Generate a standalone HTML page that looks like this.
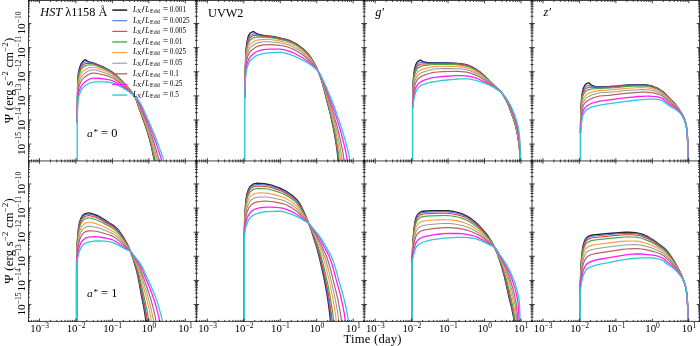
<!DOCTYPE html><html><head><meta charset="utf-8"><style>html,body{margin:0;padding:0;background:#fff;overflow:hidden}svg{display:block}</style></head><body><svg width="700" height="346" viewBox="0 0 700 346">
<rect width="700" height="346" fill="#fff"/>
<defs>
<clipPath id="cp00"><rect x="28.50" y="0.50" width="167.90" height="160.45"/></clipPath>
<clipPath id="cp01"><rect x="196.40" y="0.50" width="167.80" height="160.45"/></clipPath>
<clipPath id="cp02"><rect x="364.20" y="0.50" width="167.80" height="160.45"/></clipPath>
<clipPath id="cp03"><rect x="532.00" y="0.50" width="167.50" height="160.45"/></clipPath>
<clipPath id="cp10"><rect x="28.50" y="160.95" width="167.90" height="160.45"/></clipPath>
<clipPath id="cp11"><rect x="196.40" y="160.95" width="167.80" height="160.45"/></clipPath>
<clipPath id="cp12"><rect x="364.20" y="160.95" width="167.80" height="160.45"/></clipPath>
<clipPath id="cp13"><rect x="532.00" y="160.95" width="167.50" height="160.45"/></clipPath>
</defs>
<g clip-path="url(#cp00)" fill="none" stroke-linejoin="round" stroke-linecap="butt">
<path d="M77.2 175.0 77.2 129.9 77.2 117.8 77.4 102.8 77.5 93.7 77.6 87.7 77.8 81.7 78.0 78.7 78.1 75.7 78.5 72.7 79.1 69.8 79.9 66.9 81.0 64.1 82.7 61.6 85.0 59.8 85.8 60.0 87.8 61.3 89.3 61.9 93.1 63.0 97.6 64.6 100.6 65.8 104.2 67.5 107.7 69.4 110.5 71.0 112.5 72.3 115.0 74.3 117.9 77.0 121.4 80.4 125.2 84.4 128.3 88.0 132.4 93.0 133.8 94.9 134.6 96.3 135.3 97.8 136.0 99.3 137.2 102.5 139.3 108.8 143.3 119.8 145.0 124.5 147.1 130.8 148.5 135.6 149.5 138.8 150.3 142.1 151.5 146.9 153.2 155.1 154.0 158.4 154.3 160.0 154.6 163.3 154.9 168.3 155.0 171.7 155.0 175.0" stroke="#262626" stroke-width="1.40"/>
<path d="M77.2 175.0 77.2 130.7 77.2 118.9 77.3 107.0 77.4 98.2 77.5 92.3 77.7 86.4 77.9 80.5 78.1 77.5 78.4 74.6 79.0 71.7 79.9 68.8 81.0 66.1 82.7 63.7 85.0 62.0 85.8 61.9 87.2 62.1 89.3 62.6 92.4 63.2 94.6 63.8 98.4 65.2 101.3 66.4 104.9 68.1 108.4 70.0 111.1 71.6 113.1 73.0 115.6 75.0 118.5 77.7 121.9 81.0 125.7 85.1 128.8 88.7 132.4 93.0 133.8 94.9 134.6 96.3 135.3 97.8 136.0 99.3 137.2 102.4 139.3 108.8 143.4 119.8 145.0 124.5 147.1 130.8 148.6 135.6 149.6 138.8 150.4 142.0 151.6 146.9 153.4 155.1 154.1 158.3 154.4 160.0 154.7 163.3 155.0 168.3 155.1 171.7 155.2 175.0" stroke="#4f6ff0" stroke-width="1.05"/>
<path d="M77.2 175.0 77.2 131.4 77.2 119.7 77.3 108.1 77.4 99.4 77.5 93.5 77.7 87.7 77.9 81.9 78.1 79.0 78.4 76.1 79.0 73.3 79.9 70.5 81.0 67.8 82.7 65.5 85.0 63.8 85.8 63.6 87.2 63.4 90.1 63.5 92.4 63.8 93.9 64.1 97.6 65.4 101.3 66.8 104.9 68.5 108.4 70.3 111.1 71.9 113.1 73.3 115.5 75.2 118.5 77.9 121.9 81.2 125.7 85.2 128.8 88.8 132.4 93.0 133.8 95.0 134.6 96.3 135.4 97.8 136.0 99.3 136.7 100.9 137.8 104.0 139.4 108.7 143.5 119.7 145.2 124.5 147.3 130.8 148.8 135.6 149.7 138.8 150.6 142.0 151.8 146.9 153.6 155.1 154.4 158.3 154.7 160.0 155.0 163.3 155.3 168.3 155.4 171.7 155.5 175.0" stroke="#f02d2d" stroke-width="1.05"/>
<path d="M77.2 175.0 77.2 129.4 77.2 118.0 77.3 106.6 77.5 98.0 77.6 92.3 77.8 86.6 77.9 83.8 78.1 80.9 78.4 78.1 79.0 75.3 79.9 72.6 81.0 70.0 82.7 67.7 85.0 66.1 86.5 65.4 87.9 65.0 89.4 64.8 91.7 64.8 93.9 65.0 97.6 66.2 101.3 67.6 104.8 69.2 108.3 70.9 111.0 72.5 113.0 73.8 115.5 75.7 118.4 78.2 121.8 81.5 125.6 85.4 128.8 88.9 132.3 93.1 133.8 95.0 134.6 96.3 135.4 97.8 136.1 99.3 136.8 100.8 137.9 103.9 139.6 108.7 143.7 119.7 145.4 124.4 147.5 130.8 149.1 135.6 150.0 138.8 150.9 142.0 152.1 146.9 154.0 155.0 154.8 158.3 155.1 159.9 155.4 163.3 155.8 168.3 155.9 171.6 156.0 175.0" stroke="#4caa4c" stroke-width="1.25"/>
<path d="M77.2 175.0 77.2 130.9 77.2 117.2 77.3 108.9 77.4 100.6 77.6 95.1 77.7 92.4 77.8 89.6 78.0 86.9 78.2 84.1 78.5 81.4 79.1 78.7 80.0 76.1 81.1 73.6 82.8 71.4 85.7 69.4 87.1 68.5 88.6 67.9 90.1 67.5 92.4 67.2 93.9 67.2 96.8 68.0 100.4 69.1 104.7 70.8 108.8 72.7 111.5 74.1 114.1 75.8 117.1 78.1 120.6 81.1 124.5 84.8 127.7 88.1 131.8 92.6 133.3 94.4 134.6 96.3 135.4 97.7 136.2 99.2 136.9 100.7 138.2 103.8 140.5 110.1 144.2 119.6 145.9 124.3 148.1 130.7 149.7 135.5 150.7 138.7 151.7 141.9 153.0 146.8 155.0 155.0 155.8 158.2 156.1 159.9 156.3 161.6 156.8 166.6 157.0 169.9 157.1 173.3 157.1 175.0" stroke="#ff9a42" stroke-width="1.10"/>
<path d="M77.2 175.0 77.2 132.3 77.2 119.0 77.3 111.0 77.4 103.0 77.6 97.7 77.7 95.0 77.8 92.3 78.0 89.7 78.2 87.0 78.6 84.4 79.2 81.8 80.1 79.3 81.3 76.9 82.9 74.8 85.0 73.2 86.4 72.2 87.8 71.3 89.2 70.6 90.7 70.2 92.9 69.8 93.7 69.7 96.6 70.3 100.2 71.3 104.4 72.7 108.5 74.2 111.2 75.5 113.8 77.0 116.2 78.7 119.8 81.5 123.7 84.9 127.6 88.5 131.7 92.8 133.7 95.1 134.6 96.3 135.5 97.7 136.4 99.1 137.2 100.6 137.9 102.1 139.2 105.2 145.4 121.0 147.1 125.8 149.4 132.2 151.0 137.0 152.1 140.2 153.5 145.1 156.1 154.9 157.0 158.2 157.3 159.8 157.6 161.5 158.1 166.5 158.4 169.9 158.5 173.3 158.5 175.0" stroke="#9a9a9a" stroke-width="1.05"/>
<path d="M77.2 175.0 77.2 133.9 77.2 118.4 77.3 110.7 77.5 103.0 77.6 100.4 77.7 97.9 77.9 95.3 78.1 92.8 78.3 90.2 78.7 87.7 79.4 85.2 80.3 82.8 81.5 80.5 83.0 78.5 86.3 75.9 87.7 74.9 89.0 74.2 90.5 73.6 92.6 73.1 93.4 73.0 96.2 73.3 99.8 74.0 104.7 75.2 108.1 76.2 110.1 77.0 112.8 78.2 114.7 79.2 118.3 81.7 122.4 84.8 126.3 88.0 129.6 91.0 132.7 94.1 134.2 95.7 135.6 97.6 136.6 99.0 137.4 100.5 138.2 102.0 139.7 105.0 142.3 111.3 146.1 120.8 148.0 125.6 150.4 132.0 152.1 136.8 153.7 141.7 155.2 146.6 157.5 154.8 158.5 158.1 158.9 159.7 159.2 161.4 159.6 164.8 160.0 168.2 160.2 171.6 160.4 175.0" stroke="#b86262" stroke-width="1.20"/>
<path d="M77.2 175.0 77.2 131.1 77.2 121.4 77.3 116.5 77.4 109.2 77.6 104.3 77.7 101.9 77.9 99.4 78.1 97.0 78.4 94.6 78.9 92.2 79.6 89.9 80.5 87.6 81.7 85.5 83.2 83.6 85.6 81.5 87.4 80.2 88.7 79.5 90.1 78.9 92.2 78.3 93.6 78.1 96.3 78.1 100.5 78.5 106.7 79.3 108.8 79.7 111.5 80.5 113.4 81.2 117.2 83.2 120.8 85.4 124.9 88.1 128.3 90.7 131.5 93.4 133.6 95.3 135.8 97.6 136.9 98.9 137.9 100.2 138.8 101.7 139.6 103.2 140.4 104.7 141.9 107.9 143.9 112.6 145.9 117.4 148.0 122.2 150.6 128.6 152.5 133.4 154.3 138.3 156.1 143.1 157.7 148.1 159.3 153.0 160.4 156.3 160.9 157.9 161.4 159.6 161.7 161.3 162.3 164.7 162.7 168.1 163.1 171.5 163.2 173.3 163.2 175.0" stroke="#ff1dff" stroke-width="1.30"/>
<path d="M77.2 175.0 77.2 125.9 77.2 121.2 77.3 114.2 77.5 109.5 77.6 107.2 77.7 104.9 77.9 102.5 78.2 100.2 78.5 97.9 79.0 95.6 79.8 93.4 80.7 91.2 81.9 89.2 83.3 87.4 85.0 85.8 87.3 84.3 89.1 83.3 90.4 82.9 93.8 82.2 96.5 81.9 104.1 81.9 106.9 82.0 108.9 82.2 112.3 83.0 114.2 83.7 118.0 85.4 121.6 87.3 125.8 89.7 129.2 92.0 132.0 94.1 134.6 96.3 135.9 97.5 137.1 98.7 138.3 100.0 139.3 101.5 140.2 103.0 141.1 104.5 141.9 106.0 143.4 109.2 146.9 117.2 149.0 122.0 151.1 126.8 153.8 133.2 156.4 139.7 158.2 144.6 160.0 149.6 161.2 152.8 162.4 156.1 163.0 157.8 163.4 159.4 163.8 161.2 164.5 164.6 165.0 168.0 165.4 171.5 165.5 173.3 165.6 175.0" stroke="#2ecad8" stroke-width="1.30"/>
<path d="M77.20 163.95V123.00" stroke="#fff" stroke-width="2.6"/>
<path d="M77.20 163.95V123.00" stroke="#2ecad8" stroke-width="1.4"/>
</g>
<g clip-path="url(#cp01)" fill="none" stroke-linejoin="round" stroke-linecap="butt">
<path d="M244.8 175.0 244.8 111.3 244.8 103.8 244.9 96.4 245.0 85.1 245.2 73.9 245.4 66.4 245.5 62.7 245.6 58.9 245.8 55.2 246.0 51.4 246.3 47.7 246.7 44.0 247.3 40.3 248.2 36.6 249.8 33.3 253.0 31.5 254.0 31.8 255.6 33.0 256.5 33.5 258.4 34.2 260.4 34.8 262.4 35.3 265.4 35.7 269.5 36.1 272.5 36.5 276.6 37.3 282.6 38.6 285.5 39.3 288.5 40.2 290.4 41.0 293.2 42.3 295.8 43.7 298.4 45.4 300.9 47.2 303.3 49.1 305.6 51.2 307.7 53.4 309.0 55.0 310.8 57.5 312.4 60.1 314.5 63.6 315.9 66.3 318.0 71.0 319.7 75.0 320.5 77.0 321.2 79.1 321.8 81.2 323.0 85.3 324.1 89.5 326.2 98.0 328.4 106.4 330.0 112.7 331.0 116.9 332.8 125.4 333.7 129.7 334.5 134.0 335.3 138.3 336.6 146.8 337.2 151.2 337.7 155.5 337.9 157.6 338.0 159.8 338.4 166.3 338.5 170.7 338.6 175.0" stroke="#262626" stroke-width="1.40"/>
<path d="M244.8 175.0 244.8 112.4 244.8 105.0 244.9 97.7 245.0 86.6 245.2 75.6 245.4 68.2 245.5 64.5 245.6 60.8 245.8 57.2 246.0 53.5 246.2 49.8 246.6 46.1 247.3 42.5 248.2 39.0 249.9 35.7 253.0 33.9 254.0 33.8 254.8 34.0 256.6 34.5 260.4 35.4 262.4 35.7 269.5 36.4 272.5 36.8 276.6 37.5 282.5 38.8 285.5 39.5 288.4 40.4 290.3 41.2 293.1 42.5 295.8 43.9 298.4 45.6 300.9 47.3 303.2 49.3 305.5 51.3 307.6 53.6 308.9 55.1 310.7 57.6 312.4 60.1 314.4 63.7 315.9 66.4 318.0 71.0 319.7 75.0 320.5 77.0 321.2 79.1 321.9 81.2 323.0 85.3 324.2 89.5 326.3 98.0 328.5 106.4 330.1 112.7 331.1 116.9 333.0 125.4 333.9 129.7 334.7 134.0 335.4 138.2 336.7 146.8 337.3 151.1 337.9 155.5 338.1 157.6 338.2 159.8 338.6 166.3 338.7 170.7 338.8 175.0" stroke="#4f6ff0" stroke-width="1.05"/>
<path d="M244.8 175.0 244.8 113.2 244.8 106.0 244.9 98.7 245.0 87.8 245.2 76.9 245.3 69.7 245.4 66.0 245.6 62.4 245.7 58.8 245.9 55.1 246.2 51.5 246.6 47.9 247.3 44.4 248.3 40.9 250.0 37.7 253.0 35.8 254.0 35.5 254.9 35.5 257.6 35.7 261.5 36.2 264.5 36.4 269.5 36.8 272.5 37.2 276.5 37.9 282.5 39.2 285.5 39.9 287.4 40.5 289.3 41.1 292.1 42.4 294.8 43.7 297.4 45.3 300.0 47.0 302.4 48.9 304.7 50.9 306.8 53.0 308.8 55.3 310.6 57.7 312.3 60.3 314.4 63.8 315.8 66.4 317.6 70.1 318.9 73.0 319.8 75.0 320.5 77.0 321.2 79.1 322.5 83.2 323.7 87.4 326.4 97.9 328.6 106.4 330.2 112.7 331.3 116.9 333.2 125.4 334.1 129.7 334.9 133.9 335.7 138.2 337.0 146.8 337.6 151.1 338.1 155.4 338.4 157.6 338.5 159.8 338.9 166.3 339.0 170.6 339.1 175.0" stroke="#f02d2d" stroke-width="1.05"/>
<path d="M244.8 175.0 244.8 110.7 244.8 103.6 244.9 92.9 245.1 82.2 245.2 75.0 245.4 67.9 245.5 64.3 245.7 60.8 245.9 57.2 246.2 53.6 246.6 50.1 247.3 46.6 248.4 43.2 250.1 40.1 253.0 38.2 253.9 37.8 254.9 37.5 256.7 37.2 258.6 37.1 262.5 37.2 264.5 37.2 269.5 37.6 272.5 38.0 276.5 38.7 282.4 39.8 285.3 40.5 287.3 41.1 289.2 41.8 292.0 42.9 294.7 44.3 297.3 45.8 299.8 47.5 302.2 49.3 304.5 51.3 306.6 53.4 308.7 55.6 310.5 58.0 312.2 60.5 314.3 63.9 315.8 66.5 317.6 70.1 318.9 73.0 319.8 75.0 320.6 77.0 321.3 79.1 322.6 83.2 323.8 87.4 326.6 97.9 328.9 106.3 330.5 112.6 331.6 116.9 333.5 125.4 334.5 129.6 335.3 133.9 336.1 138.2 337.5 146.8 338.1 151.1 338.7 155.4 338.9 157.6 339.1 159.8 339.4 166.3 339.6 170.6 339.7 175.0" stroke="#4caa4c" stroke-width="1.25"/>
<path d="M244.8 175.0 244.8 112.6 244.8 102.2 244.9 91.7 245.0 84.8 245.2 77.9 245.4 70.9 245.5 67.5 245.7 64.0 245.9 60.5 246.1 57.1 246.6 53.7 247.4 50.3 248.5 47.0 250.2 44.0 253.0 42.0 254.8 41.0 255.7 40.6 256.7 40.3 258.6 39.9 264.4 39.3 269.4 39.5 272.3 39.8 277.2 40.6 282.1 41.4 285.0 42.0 286.9 42.6 289.7 43.6 292.4 44.7 295.1 46.1 297.6 47.6 300.1 49.2 302.5 51.0 304.7 52.9 306.9 54.9 308.9 57.1 310.7 59.4 313.0 62.6 315.1 65.9 316.6 68.4 318.0 71.0 319.0 73.0 319.9 74.9 320.7 77.0 322.1 81.1 323.5 85.3 324.7 89.4 327.1 97.8 329.5 106.2 331.2 112.6 332.3 116.8 333.9 123.2 334.9 127.4 335.8 131.7 336.7 136.0 338.3 144.6 339.0 148.9 339.6 153.2 339.9 155.4 340.2 157.5 340.4 159.7 340.8 166.3 341.0 170.6 341.1 175.0" stroke="#ff9a42" stroke-width="1.10"/>
<path d="M244.8 175.0 244.8 114.2 244.8 104.0 244.9 90.5 245.1 83.7 245.2 77.0 245.5 70.2 245.6 66.9 245.9 63.5 246.2 60.1 246.7 56.8 247.5 53.5 248.6 50.3 250.3 47.4 253.9 44.8 255.6 43.7 256.5 43.3 258.4 42.7 263.2 41.8 264.2 41.7 269.1 41.8 272.0 42.0 276.8 42.5 281.6 43.2 284.5 43.8 286.3 44.2 289.1 45.2 291.8 46.3 294.4 47.6 297.0 49.0 299.5 50.5 301.8 52.2 304.1 54.0 306.3 55.9 308.4 57.9 310.3 60.0 312.7 63.0 315.0 66.1 316.5 68.5 318.0 71.0 319.0 72.9 319.9 74.9 320.8 76.9 322.3 81.1 323.8 85.2 325.1 89.4 329.6 104.0 331.4 110.3 332.6 114.6 334.9 123.1 335.9 127.3 337.0 131.6 337.9 135.9 339.6 144.5 340.4 148.8 341.1 153.1 341.4 155.3 341.7 157.5 341.9 159.6 342.2 164.0 342.5 168.4 342.6 172.8 342.7 175.0" stroke="#9a9a9a" stroke-width="1.05"/>
<path d="M244.8 175.0 244.8 115.9 244.8 102.8 244.9 92.9 245.0 86.4 245.2 79.8 245.4 73.2 245.6 70.0 245.9 66.7 246.2 63.4 246.7 60.2 247.6 57.0 248.7 53.9 250.4 51.2 253.0 49.2 254.6 47.9 255.5 47.3 256.3 46.9 258.2 46.2 261.9 45.2 263.8 44.8 268.6 44.7 271.4 44.7 277.1 45.2 281.8 45.7 283.7 46.0 285.6 46.4 288.3 47.3 291.0 48.3 293.6 49.4 296.1 50.7 299.4 52.7 302.6 54.8 304.8 56.5 307.0 58.3 309.1 60.2 311.7 62.9 314.1 65.7 315.9 67.9 317.5 70.2 318.0 71.0 319.1 72.9 320.1 74.9 320.9 76.9 322.6 81.0 324.1 85.1 325.6 89.3 329.1 99.7 331.1 106.0 332.5 110.2 333.7 114.4 335.5 120.8 337.3 127.2 338.4 131.4 339.4 135.7 341.3 144.4 342.2 148.7 343.0 153.0 343.3 155.2 343.6 157.4 343.9 159.6 344.2 164.0 344.5 168.4 344.7 172.8 344.8 175.0" stroke="#b86262" stroke-width="1.20"/>
<path d="M244.8 175.0 244.8 118.3 244.8 99.4 244.8 96.3 244.9 93.1 245.0 86.8 245.3 80.5 245.4 77.4 245.6 74.2 245.9 71.1 246.2 68.0 246.8 64.9 247.7 61.9 248.9 58.9 250.6 56.3 253.0 54.3 254.5 53.1 255.2 52.5 256.1 52.0 257.8 51.2 260.5 50.4 263.2 49.7 266.9 49.3 269.6 49.1 274.2 49.1 279.8 49.2 281.6 49.4 283.4 49.6 286.1 50.3 289.7 51.4 292.3 52.4 294.8 53.5 298.9 55.7 302.1 57.5 305.2 59.5 308.1 61.6 311.0 63.9 313.7 66.3 316.2 68.9 317.4 70.3 318.0 71.0 319.2 72.9 320.2 74.8 321.2 76.9 323.9 83.0 325.6 87.1 327.2 91.2 329.6 97.4 331.9 103.7 333.3 107.9 334.8 112.1 336.1 116.3 338.1 122.7 339.4 127.0 340.7 131.2 341.8 135.5 344.5 146.3 345.5 150.7 345.9 152.9 346.3 155.0 346.7 157.2 347.0 159.5 347.4 163.9 347.8 168.3 347.9 170.5 348.0 172.8 348.1 175.0" stroke="#ff1dff" stroke-width="1.30"/>
<path d="M244.8 175.0 244.8 101.8 244.8 98.8 244.8 95.7 245.0 89.6 245.2 83.5 245.4 80.5 245.6 77.5 245.9 74.4 246.3 71.4 246.9 68.4 247.8 65.5 249.0 62.7 250.7 60.2 253.7 57.6 255.1 56.4 256.6 55.6 258.3 54.9 260.9 54.2 264.5 53.4 268.0 52.9 270.7 52.6 276.1 52.4 279.7 52.3 281.5 52.4 283.3 52.7 288.6 54.0 291.1 54.9 294.5 56.2 299.4 58.5 302.6 60.1 305.8 61.8 308.9 63.7 311.9 65.7 314.7 67.9 316.8 69.7 318.0 71.0 319.3 72.8 320.4 74.8 321.4 76.8 324.3 82.9 326.2 87.0 327.9 91.1 329.7 95.2 332.2 101.4 333.8 105.6 335.4 109.8 336.9 114.1 339.1 120.4 341.2 126.8 342.6 131.1 343.8 135.4 346.8 146.2 347.9 150.5 348.4 152.7 348.9 154.9 349.3 157.1 349.6 159.4 350.1 163.8 350.5 168.3 350.6 170.5 350.7 172.8 350.8 175.0" stroke="#2ecad8" stroke-width="1.30"/>
<path d="M244.80 163.95V98.00" stroke="#fff" stroke-width="2.6"/>
<path d="M244.80 163.95V98.00" stroke="#2ecad8" stroke-width="1.4"/>
</g>
<g clip-path="url(#cp02)" fill="none" stroke-linejoin="round" stroke-linecap="butt">
<path d="M412.6 175.0 412.6 108.9 412.6 102.9 412.8 96.9 412.9 90.9 413.1 84.9 413.2 81.9 413.4 78.9 413.7 75.9 414.0 72.9 414.4 70.0 415.1 67.0 416.0 64.2 417.6 61.7 420.1 60.1 421.2 60.5 423.2 61.7 425.5 62.3 426.6 62.5 427.8 62.7 431.3 62.7 438.3 62.6 443.0 62.6 450.0 62.9 454.7 63.2 459.4 63.6 461.7 63.9 464.0 64.2 466.3 64.7 468.6 65.4 469.7 65.8 471.8 66.9 475.8 69.2 477.8 70.5 479.7 71.9 482.4 74.1 484.2 75.6 489.1 80.6 495.1 86.3 499.3 90.3 501.0 92.0 501.7 92.9 502.7 94.3 503.7 95.8 504.5 97.3 506.2 100.4 507.7 103.5 509.1 106.7 510.3 110.0 511.5 113.2 513.3 118.2 514.3 121.5 515.3 124.8 516.1 128.2 516.9 131.6 517.5 135.1 518.4 140.2 518.9 143.7 519.3 147.1 519.6 150.6 520.0 155.8 520.1 159.3 520.3 168.0 520.4 175.0" stroke="#262626" stroke-width="1.40"/>
<path d="M412.6 175.0 412.6 110.2 412.6 104.3 412.7 98.4 412.9 92.5 413.1 86.7 413.2 83.7 413.4 80.8 413.6 77.8 414.0 74.9 414.4 72.0 415.1 69.1 416.1 66.4 417.7 63.9 420.1 62.4 421.2 62.3 423.3 62.8 426.7 63.2 427.8 63.2 433.7 63.0 439.5 62.9 445.4 63.0 451.2 63.2 455.9 63.5 460.5 64.0 462.8 64.3 465.1 64.7 467.4 65.3 468.5 65.6 469.6 66.0 471.7 67.1 475.8 69.4 477.7 70.7 479.6 72.0 482.4 74.2 484.1 75.8 489.1 80.7 495.1 86.3 499.3 90.3 501.0 92.0 501.7 92.9 502.7 94.3 503.7 95.8 504.5 97.3 506.2 100.4 507.7 103.5 509.1 106.7 510.4 109.9 511.6 113.2 513.3 118.2 514.4 121.5 515.3 124.8 516.2 128.2 516.9 131.6 517.6 135.1 518.1 138.5 518.9 143.7 519.3 147.1 519.6 150.6 520.0 155.8 520.2 159.3 520.3 168.0 520.4 175.0" stroke="#4f6ff0" stroke-width="1.05"/>
<path d="M412.6 175.0 412.6 111.3 412.6 105.5 412.7 99.7 412.9 93.9 413.1 88.1 413.2 85.2 413.4 82.3 413.6 79.4 413.9 76.5 414.3 73.7 415.1 70.9 416.1 68.2 417.7 65.8 420.1 64.2 421.2 64.0 422.3 64.0 426.7 64.0 429.0 63.9 433.7 63.5 439.5 63.4 445.3 63.5 451.2 63.7 455.8 64.0 460.5 64.4 462.8 64.7 465.1 65.1 467.4 65.6 468.5 66.0 470.6 66.9 472.7 68.0 475.7 69.7 477.7 71.0 479.6 72.3 482.3 74.4 484.1 75.9 489.1 80.8 495.1 86.4 499.3 90.3 501.0 92.0 501.7 92.9 502.7 94.3 503.7 95.8 504.6 97.3 506.2 100.4 507.7 103.5 509.1 106.7 510.4 109.9 511.6 113.2 513.3 118.1 514.4 121.5 515.4 124.8 516.2 128.2 517.0 131.6 517.6 135.0 518.2 138.5 518.9 143.7 519.3 147.1 519.6 150.6 520.0 155.8 520.2 159.3 520.3 168.0 520.4 175.0" stroke="#f02d2d" stroke-width="1.05"/>
<path d="M412.6 175.0 412.6 112.6 412.6 106.9 412.7 101.2 412.8 95.5 412.9 92.7 413.2 87.0 413.4 84.2 413.6 81.4 413.9 78.6 414.4 75.8 415.1 73.0 416.2 70.4 417.7 68.1 420.1 66.6 421.2 66.1 422.3 65.9 425.6 65.4 427.9 65.2 432.5 64.5 433.7 64.4 439.5 64.3 445.3 64.3 451.1 64.5 455.7 64.7 460.4 65.1 462.7 65.4 465.0 65.8 467.2 66.3 468.3 66.6 470.5 67.5 472.5 68.5 475.6 70.2 477.5 71.4 479.4 72.7 482.2 74.8 484.0 76.3 489.0 81.0 495.0 86.5 499.3 90.4 501.0 92.0 501.7 92.9 502.7 94.3 503.7 95.8 504.6 97.3 506.2 100.3 507.8 103.5 509.2 106.6 510.5 109.9 511.7 113.2 513.4 118.1 514.5 121.4 515.5 124.8 516.3 128.2 517.0 131.6 517.7 135.0 518.2 138.5 519.0 143.6 519.4 147.1 519.7 150.6 520.0 155.8 520.2 159.3 520.3 168.0 520.4 175.0" stroke="#4caa4c" stroke-width="1.25"/>
<path d="M412.6 175.0 412.6 114.7 412.6 109.2 412.7 101.0 412.8 98.3 412.9 95.5 413.2 90.1 413.4 87.3 413.7 84.6 414.0 81.9 414.4 79.2 415.2 76.6 416.4 74.1 417.8 71.8 420.1 70.3 421.2 69.7 422.3 69.3 424.5 68.6 430.2 67.2 433.6 66.6 439.4 66.3 445.1 66.3 450.9 66.4 455.5 66.5 460.0 66.8 462.3 67.1 464.6 67.4 466.8 67.9 469.0 68.5 471.1 69.4 474.2 70.9 477.2 72.5 479.1 73.7 481.9 75.6 484.6 77.8 493.3 85.1 499.3 90.4 500.9 92.0 501.7 92.9 502.8 94.3 503.7 95.7 504.7 97.2 505.5 98.7 507.2 101.8 508.7 105.0 510.1 108.2 511.3 111.4 512.5 114.7 514.2 119.7 515.3 123.0 516.2 126.4 516.9 129.8 517.6 133.2 518.2 136.7 518.9 141.9 519.3 145.3 519.6 148.8 520.0 154.0 520.1 157.5 520.3 162.8 520.4 171.5 520.4 175.0" stroke="#ff9a42" stroke-width="1.10"/>
<path d="M412.6 175.0 412.6 116.6 412.6 108.7 412.7 100.7 412.8 98.0 413.2 92.8 413.5 90.1 413.8 87.5 414.1 84.9 414.6 82.3 415.4 79.7 416.5 77.3 418.0 75.1 420.1 73.6 421.1 73.0 422.2 72.4 423.3 72.0 425.6 71.2 430.1 69.9 433.5 69.1 439.2 68.8 444.8 68.6 450.5 68.6 456.2 68.7 459.6 68.8 461.9 69.0 465.2 69.5 467.4 69.9 469.6 70.6 471.7 71.4 474.7 72.7 477.7 74.3 479.7 75.4 481.6 76.6 484.3 78.6 491.4 84.0 494.9 86.9 499.3 90.5 500.9 92.1 501.7 92.9 502.8 94.3 503.8 95.7 504.8 97.2 505.6 98.7 507.3 101.7 508.9 104.9 510.3 108.1 511.6 111.3 512.8 114.6 514.5 119.5 515.6 122.9 516.5 126.3 517.2 129.7 517.8 133.1 518.4 136.6 519.0 141.8 519.4 145.3 519.7 148.8 520.0 154.0 520.2 159.2 520.4 168.0 520.4 175.0" stroke="#9a9a9a" stroke-width="1.05"/>
<path d="M412.6 175.0 412.6 118.7 412.6 111.0 412.7 103.4 412.8 100.8 413.2 95.7 413.5 93.2 413.9 90.6 414.3 88.1 414.7 85.6 415.5 83.2 416.6 80.9 418.1 78.8 420.1 77.3 421.1 76.6 422.2 76.0 424.3 75.1 427.6 74.0 431.0 73.0 433.2 72.4 437.7 72.0 443.3 71.7 448.9 71.5 454.5 71.4 459.0 71.4 461.2 71.6 464.6 71.9 466.8 72.2 468.9 72.7 471.0 73.3 473.1 74.1 476.2 75.4 478.2 76.3 481.1 77.9 484.8 80.2 489.4 83.2 492.2 85.1 495.7 87.8 499.3 90.6 500.9 92.1 501.7 92.9 502.8 94.2 503.9 95.6 504.9 97.1 505.8 98.6 507.5 101.6 509.1 104.7 510.6 107.9 511.9 111.1 513.2 114.4 514.9 119.4 515.9 122.7 516.4 124.4 516.8 126.1 517.5 129.6 518.2 133.0 518.7 136.5 519.1 140.0 519.6 145.2 519.8 148.7 520.2 155.7 520.3 159.2 520.4 169.7 520.4 175.0" stroke="#b86262" stroke-width="1.20"/>
<path d="M412.6 175.0 412.6 119.2 412.6 107.0 412.8 104.6 413.3 99.8 413.6 97.4 414.5 92.6 415.0 90.2 415.7 87.9 416.8 85.8 418.3 83.8 420.1 82.2 421.1 81.6 422.1 81.1 424.2 80.2 427.4 79.1 430.6 78.2 432.8 77.6 437.2 77.1 442.6 76.5 452.5 75.8 456.9 75.6 460.2 75.6 464.6 75.8 467.9 76.1 470.0 76.4 472.1 76.9 476.3 78.2 478.3 79.0 483.3 81.3 487.2 83.1 490.1 84.7 492.9 86.4 497.4 89.5 499.2 90.7 500.9 92.1 501.7 92.9 502.9 94.2 504.0 95.6 505.0 97.0 506.0 98.4 507.0 99.9 508.7 102.9 510.3 106.1 511.8 109.3 513.1 112.5 514.3 115.8 515.5 119.2 516.5 122.5 517.0 124.2 517.4 125.9 518.1 129.4 518.7 132.9 519.1 136.3 519.5 139.8 519.8 145.1 520.1 150.4 520.3 157.4 520.4 168.0 520.4 175.0" stroke="#ff1dff" stroke-width="1.30"/>
<path d="M412.6 175.0 412.6 112.1 412.6 109.8 412.7 107.4 413.3 102.8 413.7 100.5 414.6 96.0 415.2 93.7 415.9 91.5 417.0 89.4 418.4 87.6 420.1 86.0 421.0 85.4 423.0 84.6 426.1 83.6 429.2 82.7 432.4 82.0 436.7 81.3 442.1 80.5 454.0 79.3 457.2 79.0 460.5 78.9 468.1 78.9 470.2 79.1 473.4 79.8 475.5 80.2 477.6 80.8 484.8 83.3 487.8 84.5 489.8 85.3 491.8 86.3 494.6 87.9 498.3 90.3 500.0 91.5 501.7 92.9 502.9 94.2 504.1 95.5 505.2 96.9 506.2 98.3 507.2 99.8 508.1 101.3 509.0 102.8 509.9 104.3 511.5 107.5 512.9 110.7 514.2 114.0 515.4 117.3 516.5 120.7 517.0 122.3 517.5 124.0 517.9 125.8 518.5 129.2 519.1 132.7 519.5 136.2 519.8 139.7 520.0 145.0 520.3 153.8 520.4 159.1 520.4 175.0" stroke="#2ecad8" stroke-width="1.30"/>
<path d="M412.60 163.95V108.00" stroke="#fff" stroke-width="2.6"/>
<path d="M412.60 163.95V108.00" stroke="#2ecad8" stroke-width="1.4"/>
</g>
<g clip-path="url(#cp03)" fill="none" stroke-linejoin="round" stroke-linecap="butt">
<path d="M580.4 175.0 580.4 133.7 580.5 126.4 580.7 116.6 580.8 111.8 581.0 106.9 581.3 102.1 581.5 99.7 581.7 97.2 582.0 94.8 582.4 92.4 582.9 90.0 583.6 87.7 584.7 85.5 586.3 83.8 588.5 82.8 589.4 83.2 590.8 84.5 591.6 85.1 593.4 85.8 595.3 86.4 596.2 86.6 607.0 86.6 609.9 86.5 617.7 85.9 624.5 85.2 627.4 84.9 636.2 84.7 643.1 84.6 645.0 84.7 647.9 85.2 650.8 85.8 652.7 86.3 655.4 87.3 658.1 88.5 659.8 89.5 661.4 90.5 663.0 91.7 664.4 92.9 665.7 94.3 668.2 97.1 669.5 98.4 672.2 100.9 673.5 102.2 674.8 103.6 676.0 105.1 677.1 106.6 678.1 108.1 679.2 109.6 682.1 114.4 683.0 116.0 683.9 117.7 684.6 119.4 685.1 121.2 685.6 123.0 686.1 124.8 686.4 126.6 686.7 128.5 687.1 132.2 687.4 135.9 687.6 139.6 687.8 148.9 688.0 156.4 688.0 175.0" stroke="#262626" stroke-width="1.40"/>
<path d="M580.4 175.0 580.4 134.8 580.5 127.7 580.6 120.6 580.7 115.8 580.9 111.1 581.1 106.4 581.4 101.6 581.7 99.3 581.9 96.9 582.3 94.6 582.8 92.3 583.6 90.1 584.7 88.0 586.4 86.3 588.5 85.4 589.4 85.3 590.2 85.5 591.7 86.2 594.5 86.8 596.3 87.0 599.2 86.9 608.0 86.9 610.9 86.7 618.7 86.0 624.5 85.4 627.5 85.2 636.2 84.9 643.1 84.9 645.0 85.0 647.9 85.4 650.8 86.0 652.7 86.5 655.4 87.5 658.1 88.7 659.8 89.6 661.4 90.7 663.0 91.9 664.4 93.1 665.7 94.4 668.2 97.2 669.5 98.5 672.2 101.0 673.5 102.3 674.8 103.7 676.0 105.2 677.1 106.6 678.2 108.2 679.2 109.7 682.1 114.5 683.0 116.1 683.9 117.7 684.6 119.5 685.1 121.2 685.6 123.0 686.1 124.8 686.4 126.7 686.7 128.5 687.1 132.2 687.4 135.9 687.6 139.6 687.8 148.9 688.0 156.4 688.0 175.0" stroke="#4f6ff0" stroke-width="1.05"/>
<path d="M580.4 175.0 580.4 135.6 580.5 128.7 580.6 121.7 580.8 114.8 581.0 110.2 581.3 105.5 581.6 100.9 581.9 98.6 582.2 96.3 582.7 94.1 583.6 91.9 584.8 90.0 586.4 88.3 588.5 87.4 589.4 87.1 590.2 87.1 594.6 87.6 596.5 87.6 599.4 87.4 607.1 87.3 610.1 87.2 617.8 86.6 624.6 85.9 628.5 85.6 637.2 85.3 643.1 85.2 645.0 85.4 647.9 85.8 650.8 86.3 652.7 86.8 655.4 87.8 658.1 89.0 659.8 89.9 661.4 91.0 663.0 92.1 664.4 93.3 665.7 94.7 668.2 97.4 669.5 98.7 672.2 101.2 673.6 102.5 674.8 103.9 676.0 105.3 677.1 106.8 678.2 108.3 679.2 109.8 681.2 113.0 682.2 114.6 683.1 116.2 683.9 117.9 684.6 119.6 685.2 121.3 685.7 123.1 686.1 124.9 686.4 126.8 686.7 128.6 687.1 132.3 687.4 136.0 687.6 139.7 687.8 149.0 688.0 156.4 688.0 175.0" stroke="#f02d2d" stroke-width="1.05"/>
<path d="M580.4 175.0 580.4 136.7 580.5 129.9 580.6 123.2 580.8 116.4 581.0 111.9 581.3 107.4 581.6 102.9 581.9 100.7 582.2 98.4 582.7 96.2 583.6 94.2 584.9 92.3 586.5 90.8 589.4 89.4 590.3 89.2 592.9 88.9 595.7 88.7 599.5 88.3 607.3 88.2 610.2 88.0 617.9 87.3 624.7 86.6 628.5 86.4 637.3 86.0 643.1 86.0 645.0 86.1 647.9 86.5 650.8 87.0 652.6 87.5 655.4 88.4 658.1 89.5 659.8 90.4 661.4 91.4 663.0 92.5 664.4 93.8 668.2 97.8 669.5 99.1 672.3 101.5 673.6 102.8 674.9 104.2 676.1 105.6 677.2 107.0 678.3 108.5 679.3 110.0 681.3 113.2 682.2 114.8 683.1 116.4 684.0 118.0 684.6 119.8 685.2 121.5 685.7 123.3 686.1 125.1 686.5 126.9 686.7 128.8 687.1 132.4 687.4 136.1 687.6 139.8 687.8 149.1 688.0 156.5 688.0 175.0" stroke="#4caa4c" stroke-width="1.25"/>
<path d="M580.4 175.0 580.4 138.3 580.5 131.9 580.5 125.4 580.7 121.1 580.9 116.8 581.1 112.5 581.5 108.2 581.7 106.0 581.9 103.9 582.3 101.8 582.8 99.7 583.8 97.8 585.0 96.0 586.6 94.5 588.5 93.6 590.3 92.6 592.1 92.0 595.0 91.4 599.7 90.4 607.4 90.1 611.3 89.8 619.0 89.1 624.7 88.5 628.6 88.2 637.3 87.8 643.1 87.6 645.0 87.7 647.9 88.0 650.7 88.5 652.6 88.9 655.3 89.8 658.0 90.7 659.7 91.6 661.4 92.5 663.0 93.6 664.4 94.8 666.9 97.4 668.2 98.7 669.6 99.9 672.3 102.3 673.7 103.5 675.0 104.8 676.2 106.2 677.4 107.6 678.5 109.1 679.5 110.6 680.5 112.1 682.4 115.2 683.3 116.9 684.1 118.5 684.8 120.2 685.3 122.0 685.8 123.7 686.2 125.5 686.5 127.3 686.8 129.2 687.1 132.8 687.4 136.5 687.6 140.1 687.8 149.3 688.0 156.6 688.0 175.0" stroke="#ff9a42" stroke-width="1.10"/>
<path d="M580.4 175.0 580.4 139.8 580.5 131.5 580.5 127.3 580.7 123.2 580.9 119.0 581.2 114.9 581.6 110.8 581.8 108.7 582.0 106.7 582.4 104.6 583.0 102.6 583.9 100.8 585.2 99.2 586.7 97.8 588.5 96.8 590.3 95.7 591.2 95.3 593.1 94.6 599.8 92.8 608.4 92.3 618.0 91.4 624.7 90.6 631.4 90.2 639.1 89.8 642.9 89.6 645.8 89.7 649.6 90.1 651.5 90.4 654.3 91.1 657.0 91.9 658.8 92.5 660.5 93.3 662.2 94.3 663.0 94.8 664.4 96.0 666.9 98.6 668.3 99.8 671.0 102.1 673.8 104.4 675.1 105.6 676.4 106.9 677.6 108.3 678.7 109.7 679.8 111.2 680.8 112.7 682.6 115.8 683.5 117.4 684.2 119.1 684.9 120.8 685.4 122.5 685.9 124.2 686.3 126.0 686.6 127.8 686.8 129.6 687.2 133.2 687.4 136.9 687.6 140.5 687.8 149.6 688.0 156.8 688.0 175.0" stroke="#9a9a9a" stroke-width="1.05"/>
<path d="M580.4 175.0 580.4 141.3 580.5 131.4 580.5 129.4 580.7 125.4 581.1 119.5 581.4 115.6 581.9 111.6 582.2 109.7 582.6 107.7 583.2 105.9 584.1 104.1 585.3 102.5 586.8 101.2 588.5 100.3 590.3 99.1 591.2 98.7 593.0 97.9 599.7 96.0 608.3 95.3 618.8 94.1 625.5 93.4 635.1 92.6 641.8 92.2 644.7 92.2 648.5 92.4 651.3 92.7 654.1 93.2 656.9 93.8 658.7 94.3 660.5 95.0 662.2 95.9 663.0 96.4 664.3 97.6 665.6 98.8 666.9 100.0 668.3 101.2 671.1 103.4 673.9 105.5 675.3 106.7 676.6 107.9 677.8 109.2 679.0 110.5 680.1 112.0 681.1 113.4 682.0 115.0 682.9 116.5 683.7 118.1 684.4 119.8 685.0 121.4 685.6 123.2 686.0 124.9 686.4 126.6 686.7 128.4 686.9 130.2 687.2 133.8 687.4 137.3 687.7 142.7 687.9 151.7 688.0 158.9 688.0 175.0" stroke="#b86262" stroke-width="1.20"/>
<path d="M580.4 175.0 580.4 147.1 580.5 134.1 580.5 132.3 580.6 130.4 581.0 124.9 581.4 121.2 581.8 117.5 582.0 115.6 582.4 113.8 582.8 112.0 583.4 110.3 584.4 108.7 585.5 107.2 586.9 106.0 590.2 104.0 591.1 103.5 592.9 102.8 599.6 101.1 605.3 100.3 622.4 98.1 631.9 97.1 638.6 96.5 642.4 96.3 646.3 96.1 649.1 96.2 652.0 96.3 655.8 96.7 657.6 97.0 659.5 97.4 661.3 98.1 663.0 98.9 664.3 100.1 665.6 101.3 667.0 102.4 668.4 103.4 671.2 105.4 674.2 107.3 675.6 108.3 676.9 109.4 678.2 110.6 679.4 111.9 680.5 113.2 681.6 114.6 682.5 116.1 683.3 117.7 684.1 119.3 684.7 120.9 685.3 122.5 685.8 124.2 686.2 125.9 686.6 127.6 686.8 129.4 687.1 132.9 687.4 136.4 687.6 141.6 687.9 150.4 688.0 157.4 688.0 175.0" stroke="#ff1dff" stroke-width="1.30"/>
<path d="M580.4 175.0 580.4 150.3 580.5 136.2 580.5 134.4 580.6 132.7 581.1 127.4 581.4 123.9 581.9 120.4 582.2 118.6 582.5 116.9 583.0 115.2 583.7 113.6 584.6 112.1 585.7 110.7 587.0 109.6 589.3 108.1 591.0 107.2 592.8 106.6 601.3 104.9 607.9 103.8 620.3 102.1 633.6 100.5 639.3 99.9 646.0 99.4 648.9 99.2 652.7 99.2 657.5 99.4 659.4 99.7 661.2 100.3 663.0 101.0 664.3 102.1 665.6 103.3 667.0 104.3 671.3 107.1 674.3 108.8 675.8 109.6 677.2 110.6 678.5 111.8 679.8 112.9 680.9 114.2 682.0 115.6 682.8 117.1 683.6 118.6 684.4 120.2 685.0 121.8 685.5 123.5 686.0 125.1 686.4 126.8 686.7 128.5 687.1 131.9 687.3 135.3 687.5 138.8 687.8 147.4 687.9 154.3 688.0 161.2 688.0 175.0" stroke="#2ecad8" stroke-width="1.30"/>
<path d="M580.40 163.95V133.00" stroke="#fff" stroke-width="2.6"/>
<path d="M580.40 163.95V133.00" stroke="#2ecad8" stroke-width="1.4"/>
</g>
<g clip-path="url(#cp10)" fill="none" stroke-linejoin="round" stroke-linecap="butt">
<path d="M76.6 335.0 76.6 266.6 76.6 263.4 76.7 260.1 77.1 247.1 77.2 243.8 77.4 240.6 77.6 237.3 77.9 234.1 78.2 230.9 78.6 227.6 79.1 224.4 79.9 221.2 81.0 218.2 82.7 215.4 85.3 213.6 88.5 212.9 90.0 213.1 92.2 213.7 95.7 215.0 98.5 216.2 103.1 218.8 106.2 220.9 109.4 223.0 113.2 225.4 115.0 226.8 116.7 228.2 118.3 229.9 120.1 232.3 123.0 236.7 125.3 240.6 127.5 244.6 129.1 248.0 130.5 251.5 131.7 254.8 132.9 258.1 134.4 263.0 135.9 268.0 136.8 271.4 137.6 274.8 138.3 278.2 139.3 283.3 141.1 293.6 142.1 298.8 143.5 305.6 144.1 309.0 145.2 315.9 145.7 319.3 145.8 321.1 146.1 326.3 146.2 331.5 146.2 335.0" stroke="#262626" stroke-width="1.40"/>
<path d="M76.6 335.0 76.6 267.2 76.6 264.0 76.7 260.8 77.1 247.9 77.2 244.6 77.4 241.4 77.6 238.2 77.9 235.0 78.2 231.8 78.6 228.6 79.2 225.4 79.9 222.3 81.0 219.2 82.8 216.5 85.4 214.7 88.5 214.0 90.0 214.2 92.1 214.7 95.7 216.0 98.4 217.2 103.0 219.7 106.1 221.7 109.9 224.1 113.0 226.1 114.9 227.3 116.6 228.8 118.1 230.4 119.9 232.7 122.9 237.1 125.2 240.9 127.4 244.8 129.1 248.1 130.5 251.5 131.8 254.7 133.0 258.0 134.6 263.0 135.6 266.3 136.6 269.7 137.5 273.0 138.2 276.4 139.3 281.6 141.6 293.6 142.6 298.7 144.0 305.5 144.7 309.0 145.8 315.8 146.3 319.3 146.5 321.0 146.7 326.3 146.8 331.5 146.8 335.0" stroke="#4f6ff0" stroke-width="1.05"/>
<path d="M76.6 335.0 76.6 268.1 76.6 264.9 76.7 261.7 77.1 248.9 77.2 245.8 77.4 242.6 77.6 239.4 77.9 236.2 78.2 233.1 78.7 229.9 79.2 226.8 80.0 223.7 81.1 220.7 82.8 218.0 85.4 216.2 88.5 215.6 90.0 215.7 92.1 216.2 95.6 217.3 98.3 218.5 102.8 220.8 105.9 222.7 109.7 225.0 112.8 226.9 114.6 228.1 116.3 229.5 117.9 231.1 119.7 233.4 123.5 238.8 125.8 242.5 128.0 246.3 129.3 248.8 131.2 253.1 132.5 256.3 133.7 259.6 135.4 264.5 136.4 267.9 137.4 271.2 138.3 274.6 139.4 279.8 141.2 288.3 142.6 295.2 144.8 305.4 145.5 308.9 146.7 315.8 147.2 319.2 147.3 321.0 147.6 326.2 147.7 331.5 147.7 335.0" stroke="#f02d2d" stroke-width="1.05"/>
<path d="M76.6 335.0 76.6 269.3 76.6 266.2 76.7 263.1 77.0 250.6 77.1 247.5 77.3 244.3 77.6 241.2 77.9 238.1 78.2 235.0 78.7 231.9 79.3 228.8 80.0 225.8 81.2 222.9 82.9 220.4 85.5 218.6 88.5 217.9 89.9 218.0 92.0 218.4 95.4 219.5 98.1 220.5 102.6 222.6 109.4 226.5 112.5 228.2 114.9 229.8 116.5 231.2 118.5 233.2 121.1 236.6 124.4 241.2 127.1 245.4 128.9 248.4 130.5 251.5 131.2 253.1 132.6 256.3 134.6 261.1 135.8 264.4 136.9 267.7 137.9 271.1 138.9 274.5 140.1 279.6 142.1 288.2 144.4 298.4 145.9 305.3 146.7 308.7 147.9 315.7 148.5 319.2 148.7 320.9 148.8 324.4 149.0 329.7 149.1 335.0" stroke="#4caa4c" stroke-width="1.25"/>
<path d="M76.6 335.0 76.6 271.7 76.6 268.7 76.7 262.7 76.9 253.6 77.0 250.6 77.2 247.6 77.5 244.6 77.9 241.6 78.3 238.6 78.7 235.7 79.3 232.7 80.2 229.8 81.4 227.1 83.1 224.7 85.6 223.0 88.5 222.3 89.9 222.3 92.5 222.8 95.8 223.6 99.0 224.7 102.8 226.2 111.3 230.4 113.7 231.7 115.4 232.8 116.9 234.1 119.7 237.1 123.6 241.8 127.6 247.1 129.5 249.8 131.4 253.0 132.2 254.6 135.1 260.9 136.5 264.2 137.2 265.8 138.4 269.1 139.5 272.5 141.4 279.3 143.7 287.9 146.0 296.4 147.7 303.3 148.5 306.8 149.3 310.3 150.6 317.2 150.9 319.0 151.1 320.8 151.2 322.5 151.4 327.9 151.5 333.2 151.5 335.0" stroke="#ff9a42" stroke-width="1.10"/>
<path d="M76.6 335.0 76.6 273.9 76.6 268.1 76.9 256.5 76.9 253.5 77.2 250.6 77.9 244.9 78.3 242.0 78.8 239.1 79.4 236.3 80.3 233.6 81.5 230.9 83.3 228.7 85.7 227.1 88.5 226.3 90.5 226.4 94.3 226.9 97.5 227.6 101.8 229.0 110.1 232.4 112.5 233.5 114.2 234.4 115.8 235.6 119.1 238.7 123.6 243.3 128.2 248.5 130.1 251.0 131.5 252.9 132.3 254.5 136.5 262.3 137.2 263.9 138.0 265.5 138.7 267.2 139.9 270.6 141.0 274.0 144.7 285.9 146.8 292.7 148.3 297.9 149.7 303.1 150.5 306.6 151.4 310.1 152.8 317.1 153.2 318.9 153.4 320.6 153.5 322.4 153.8 327.8 153.9 333.2 153.9 335.0" stroke="#9a9a9a" stroke-width="1.05"/>
<path d="M76.6 335.0 76.6 276.3 76.6 270.7 76.8 259.6 76.8 256.8 77.1 254.0 77.8 248.5 78.3 245.7 78.9 243.0 79.5 240.3 80.4 237.7 81.7 235.2 83.5 233.1 85.8 231.6 88.5 230.8 90.4 230.8 94.1 231.0 97.1 231.5 101.3 232.5 108.9 234.8 111.9 235.9 114.1 237.0 116.1 238.4 120.8 242.4 128.4 249.3 130.1 251.0 131.6 252.9 132.6 254.4 134.4 257.5 137.1 262.1 138.0 263.7 138.8 265.3 139.6 266.9 140.9 270.3 146.4 285.6 148.1 290.7 149.3 294.1 150.9 299.3 152.3 304.6 153.2 308.1 154.1 311.6 155.3 316.9 155.6 318.7 155.9 320.5 156.1 322.3 156.3 327.7 156.4 333.2 156.4 335.0" stroke="#b86262" stroke-width="1.20"/>
<path d="M76.6 335.0 76.6 277.1 76.7 263.9 76.7 261.3 77.0 258.7 77.8 253.5 78.3 250.9 78.9 248.4 79.7 245.8 80.6 243.4 82.0 241.2 83.8 239.3 86.0 237.9 88.5 237.1 91.4 236.8 94.9 236.7 98.4 236.9 102.4 237.5 108.1 238.6 111.0 239.3 113.2 240.0 115.2 241.2 122.0 245.7 126.3 248.6 129.2 250.4 130.5 251.5 131.8 252.8 132.9 254.3 134.9 257.3 138.1 261.8 139.1 263.3 140.0 264.9 140.9 266.5 141.6 268.2 143.1 271.6 145.1 276.7 149.3 286.8 150.7 290.3 152.0 293.7 153.2 297.2 154.4 300.7 155.4 304.2 156.4 307.7 157.4 311.3 158.7 316.7 159.1 318.5 159.4 320.3 159.6 322.1 159.9 327.6 160.0 331.3 160.0 335.0" stroke="#ff1dff" stroke-width="1.30"/>
<path d="M76.6 335.0 76.6 267.3 76.6 264.8 76.9 262.4 77.8 257.4 78.4 255.0 79.0 252.6 79.8 250.2 80.8 247.9 82.2 245.8 84.0 244.1 86.1 242.8 88.5 242.0 92.4 241.3 95.7 241.0 99.1 240.9 104.7 241.2 108.6 241.6 111.4 242.1 113.0 242.6 120.0 246.2 125.4 249.1 129.0 250.7 130.5 251.5 131.9 252.7 133.1 254.2 135.3 257.2 138.8 261.5 139.9 263.0 140.9 264.6 141.9 266.2 142.7 267.9 144.3 271.2 146.5 276.4 151.2 286.5 152.7 289.9 154.2 293.4 155.5 296.8 156.7 300.4 157.9 303.9 158.9 307.5 159.9 311.1 161.4 316.5 161.8 318.3 162.2 320.1 162.4 322.0 162.7 327.5 162.8 331.3 162.8 335.0" stroke="#2ecad8" stroke-width="1.30"/>
<path d="M76.60 324.40V263.00" stroke="#2ecad8" stroke-width="1.4"/>
</g>
<g clip-path="url(#cp11)" fill="none" stroke-linejoin="round" stroke-linecap="butt">
<path d="M244.3 335.0 244.3 238.0 244.3 234.0 244.4 230.0 244.5 225.9 244.7 217.8 244.9 213.8 245.2 209.8 245.5 205.8 245.8 201.7 246.3 197.7 247.0 193.7 248.3 189.9 250.2 186.3 253.3 184.0 257.3 183.3 260.0 183.4 264.4 183.8 267.1 184.2 269.7 184.7 272.2 185.4 275.6 186.6 280.6 188.5 283.0 189.7 285.4 190.9 287.7 192.3 290.6 194.3 292.7 195.9 294.8 197.7 296.7 199.5 297.9 200.9 298.9 202.3 300.3 204.6 303.4 211.0 305.6 215.9 308.0 221.6 310.3 227.7 311.1 229.8 311.9 232.1 313.3 236.5 316.1 245.4 317.4 249.9 318.0 252.1 319.2 256.7 322.8 272.6 323.8 277.2 324.7 281.7 326.0 288.6 326.8 293.2 327.6 297.8 328.9 307.1 329.5 311.7 330.0 316.4 330.3 318.7 330.4 321.0 330.7 325.7 330.9 330.3 331.0 335.0" stroke="#262626" stroke-width="1.40"/>
<path d="M244.3 335.0 244.3 238.8 244.3 234.8 244.4 230.7 244.5 226.7 244.7 218.7 244.9 214.7 245.2 210.7 245.4 206.7 245.8 202.7 246.3 198.7 247.1 194.8 248.3 191.0 250.2 187.5 253.4 185.2 257.3 184.5 259.9 184.5 264.3 184.9 267.0 185.2 269.6 185.7 272.1 186.4 275.5 187.5 280.4 189.4 282.8 190.5 285.2 191.7 287.4 193.0 290.4 195.0 293.2 197.1 295.2 198.8 297.0 200.7 298.2 202.1 299.2 203.5 300.5 205.8 303.7 212.0 306.2 217.6 308.6 223.3 310.3 227.6 311.2 229.8 312.0 232.0 313.5 236.4 316.4 245.3 317.8 249.8 318.4 252.0 319.6 256.5 320.7 261.1 323.3 272.5 324.3 277.1 325.3 281.6 326.6 288.5 327.4 293.1 328.2 297.8 329.5 307.0 330.2 311.7 330.7 316.3 330.9 318.6 331.1 321.0 331.4 325.6 331.6 330.3 331.7 335.0" stroke="#4f6ff0" stroke-width="1.05"/>
<path d="M244.3 335.0 244.3 239.8 244.3 235.8 244.3 231.8 244.4 227.9 244.7 219.9 244.9 216.0 245.1 212.0 245.4 208.1 245.8 204.1 246.3 200.2 247.1 196.3 248.4 192.5 250.3 189.1 253.4 186.8 257.3 186.1 259.9 186.1 264.2 186.4 266.8 186.7 269.4 187.2 272.8 188.0 276.9 189.4 280.1 190.6 282.5 191.6 284.9 192.8 287.1 194.0 290.0 195.9 292.8 198.0 294.8 199.6 296.7 201.5 297.8 202.8 299.3 204.9 301.1 207.8 303.9 213.2 306.5 218.6 308.6 223.3 310.4 227.6 312.2 231.9 313.8 236.3 316.8 245.2 318.2 249.6 318.9 251.9 320.1 256.4 321.3 260.9 323.5 270.1 324.5 274.6 325.5 279.2 326.9 286.1 327.8 290.7 328.6 295.3 329.4 300.0 330.7 309.3 331.4 313.9 331.6 316.3 331.9 318.6 332.1 320.9 332.3 325.6 332.5 330.3 332.6 335.0" stroke="#f02d2d" stroke-width="1.05"/>
<path d="M244.3 335.0 244.3 241.3 244.3 237.4 244.3 233.5 244.4 229.6 244.7 221.8 244.8 217.9 245.1 214.0 245.4 210.1 245.8 206.2 246.4 202.4 247.1 198.5 248.5 194.9 250.4 191.5 253.5 189.3 257.3 188.5 260.7 188.5 264.9 188.7 267.5 189.0 270.0 189.5 273.3 190.4 278.9 192.2 281.3 193.0 284.4 194.4 286.6 195.6 289.5 197.4 292.3 199.3 294.3 200.9 296.2 202.6 297.3 203.8 298.9 205.8 300.7 208.6 303.2 212.9 306.4 218.8 308.6 223.3 309.6 225.4 311.5 229.7 313.3 234.0 314.2 236.2 315.8 240.5 317.4 245.0 318.9 249.4 319.6 251.6 321.0 256.1 322.2 260.7 324.0 267.5 325.6 274.4 326.6 279.0 328.1 285.9 329.0 290.6 329.9 295.2 330.7 299.8 332.1 309.2 332.8 313.8 333.0 316.2 333.3 318.5 333.5 320.9 333.8 325.6 334.0 330.3 334.1 335.0" stroke="#4caa4c" stroke-width="1.25"/>
<path d="M244.3 335.0 244.3 244.1 244.3 240.3 244.3 236.6 244.5 229.0 244.6 225.2 244.7 221.4 245.0 217.6 245.3 213.9 245.8 210.1 246.4 206.4 247.3 202.7 248.6 199.2 250.6 196.0 253.6 193.9 257.3 193.0 260.6 192.9 264.6 193.0 267.1 193.1 270.3 193.7 274.3 194.6 279.0 195.9 282.1 196.9 284.3 197.8 286.5 198.8 289.3 200.4 292.0 202.2 294.0 203.7 295.8 205.2 297.5 206.9 299.5 209.4 302.2 213.3 306.6 219.9 308.6 223.3 309.7 225.3 312.9 231.6 313.9 233.7 314.9 235.9 315.8 238.0 317.6 242.4 319.4 246.8 321.1 251.2 322.6 255.7 323.3 257.9 324.0 260.2 325.3 264.8 326.5 269.4 327.6 274.0 328.7 278.6 330.7 287.9 331.7 292.6 332.6 297.2 333.5 301.9 334.6 308.9 335.4 313.6 335.7 316.0 335.9 318.4 336.1 320.7 336.4 325.5 336.6 330.2 336.7 332.6 336.7 335.0" stroke="#ff9a42" stroke-width="1.10"/>
<path d="M244.3 335.0 244.3 246.8 244.3 243.1 244.3 239.4 244.5 232.1 244.5 228.4 244.7 224.7 244.9 221.1 245.2 217.4 245.7 213.8 246.4 210.2 247.4 206.6 248.8 203.3 250.8 200.2 253.8 198.2 257.3 197.3 260.4 197.0 264.4 196.9 266.7 197.0 269.9 197.4 274.5 198.2 279.0 199.2 282.8 200.3 284.9 201.1 287.8 202.5 291.2 204.5 293.7 206.2 295.6 207.6 297.2 209.2 299.8 211.9 302.2 214.8 306.8 220.8 308.6 223.3 309.9 225.3 313.4 231.4 314.5 233.5 315.6 235.6 316.6 237.7 318.6 242.0 320.5 246.4 322.4 250.8 323.2 253.0 324.1 255.2 324.9 257.5 325.7 259.7 326.4 262.0 327.7 266.6 328.9 271.3 330.0 275.9 332.8 287.6 333.8 292.3 334.8 297.0 335.7 301.7 337.0 308.7 337.8 313.5 338.1 315.8 338.4 318.2 338.6 320.6 338.9 325.4 339.1 330.2 339.2 332.6 339.2 335.0" stroke="#9a9a9a" stroke-width="1.05"/>
<path d="M244.3 335.0 244.3 246.1 244.4 239.0 244.5 231.9 244.6 228.4 244.8 224.8 245.1 221.3 245.7 217.8 246.5 214.3 247.5 210.9 248.9 207.7 251.0 204.9 253.9 202.9 257.3 201.9 260.3 201.5 264.1 201.2 266.3 201.2 270.1 201.5 275.3 202.2 279.0 202.8 282.6 203.6 284.7 204.3 287.5 205.5 291.5 207.6 294.0 209.2 296.4 210.9 299.6 213.8 302.2 216.4 307.2 221.6 308.6 223.3 310.0 225.2 312.6 229.2 315.1 233.2 316.4 235.3 317.5 237.4 318.6 239.5 320.8 243.8 323.8 250.4 324.8 252.5 325.8 254.7 326.7 257.0 327.5 259.2 328.2 261.5 328.9 263.8 330.3 268.5 331.5 273.2 333.8 282.6 335.6 289.6 336.7 294.3 337.8 299.0 339.6 308.5 340.4 313.3 340.8 315.7 341.1 318.1 341.4 320.5 341.7 325.3 341.9 330.2 341.9 332.6 342.0 335.0" stroke="#b86262" stroke-width="1.20"/>
<path d="M244.3 335.0 244.3 250.4 244.3 240.2 244.4 236.9 244.5 233.5 244.7 230.1 245.0 226.7 245.7 223.4 246.5 220.1 247.6 217.0 249.2 214.0 251.3 211.4 254.1 209.5 257.3 208.4 260.8 207.7 263.6 207.3 265.8 207.1 270.8 207.2 276.5 207.4 280.7 207.8 282.8 208.2 284.8 208.8 290.1 210.9 293.3 212.4 296.3 214.2 299.2 216.0 304.2 219.9 307.0 221.9 308.6 223.3 310.2 225.1 313.1 229.0 316.0 232.9 317.5 234.9 318.8 236.9 320.0 239.0 321.2 241.1 325.8 249.7 327.0 251.9 328.1 254.1 329.1 256.3 330.0 258.5 330.9 260.8 331.6 263.2 332.4 265.5 333.7 270.2 336.2 279.7 338.8 289.1 340.1 293.9 340.7 296.2 341.2 298.6 342.8 305.8 343.7 310.6 344.2 313.0 344.6 315.4 344.9 317.9 345.2 320.3 345.4 322.8 345.6 327.6 345.8 332.5 345.8 335.0" stroke="#ff1dff" stroke-width="1.30"/>
<path d="M244.3 335.0 244.3 240.7 244.4 237.4 244.6 234.2 244.9 231.0 245.6 227.8 246.6 224.7 247.8 221.7 249.4 218.8 251.5 216.4 254.3 214.7 257.3 213.5 260.6 212.6 263.3 212.0 266.0 211.7 273.6 211.3 279.7 211.2 281.1 211.3 283.1 211.6 289.7 213.7 293.5 215.1 297.3 216.8 299.8 218.0 303.9 220.5 306.9 222.1 308.6 223.3 310.4 225.0 313.5 228.9 316.7 232.6 318.3 234.5 319.7 236.5 321.1 238.6 322.4 240.7 328.6 251.4 329.9 253.5 331.0 255.7 332.0 258.0 332.9 260.3 333.7 262.6 334.5 265.0 335.2 267.4 336.6 272.1 338.5 279.3 342.0 291.2 343.3 295.9 343.9 298.3 344.5 300.7 346.1 308.0 346.6 310.4 347.1 312.8 347.5 315.3 347.9 317.7 348.2 320.2 348.3 322.6 348.6 327.6 348.7 330.1 348.8 332.5 348.8 335.0" stroke="#2ecad8" stroke-width="1.30"/>
<path d="M244.30 324.40V238.00" stroke="#2ecad8" stroke-width="1.4"/>
</g>
<g clip-path="url(#cp12)" fill="none" stroke-linejoin="round" stroke-linecap="butt">
<path d="M412.0 335.0 412.0 264.7 412.0 261.5 412.1 258.3 412.4 251.9 412.7 245.6 412.9 242.4 413.1 239.2 413.4 236.0 413.6 232.8 413.9 229.6 414.3 226.5 414.8 223.3 415.3 220.2 416.2 217.1 417.7 214.3 420.1 212.2 421.2 211.8 422.3 211.5 423.4 211.3 426.8 211.0 431.3 210.8 442.7 210.7 446.1 210.7 448.4 210.8 451.8 211.3 454.1 211.6 456.3 212.1 458.5 212.7 460.7 213.4 462.8 214.2 464.9 215.1 467.9 216.7 469.8 217.9 471.7 219.2 474.4 221.3 476.1 222.8 478.6 225.1 480.9 227.6 483.2 230.2 485.4 232.8 487.5 235.5 489.4 238.3 491.2 241.2 492.9 244.2 494.5 247.2 496.0 250.6 497.5 254.0 498.7 257.4 499.9 260.9 501.0 264.5 502.1 268.0 503.5 273.4 504.5 276.9 505.7 282.3 507.7 291.4 508.9 296.8 511.1 305.7 512.0 309.3 512.7 313.0 513.5 316.6 513.8 318.4 514.1 320.2 514.2 322.1 514.4 329.5 514.4 335.0" stroke="#262626" stroke-width="1.40"/>
<path d="M412.0 335.0 412.0 265.4 412.0 262.2 412.1 259.1 412.4 252.7 412.7 246.4 412.9 243.2 413.1 240.1 413.3 236.9 413.6 233.8 413.9 230.6 414.3 227.5 414.7 224.4 415.3 221.3 416.3 218.2 417.7 215.4 420.1 213.4 421.2 213.0 422.3 212.7 423.4 212.5 426.7 212.2 431.3 211.9 441.4 211.8 446.0 211.8 448.2 211.9 451.6 212.3 453.8 212.6 456.1 213.1 459.3 213.9 461.5 214.6 463.6 215.5 465.6 216.4 467.6 217.5 469.6 218.6 471.4 219.9 474.2 221.9 475.9 223.3 478.4 225.6 480.7 228.0 483.0 230.5 485.2 233.1 487.3 235.8 489.3 238.5 491.2 241.3 492.9 244.2 494.5 247.2 495.3 248.9 496.8 252.2 498.2 255.7 499.5 259.1 500.6 262.6 501.8 266.2 502.8 269.7 504.3 275.1 505.2 278.7 506.4 284.1 508.4 293.1 509.7 298.5 511.0 303.9 511.9 307.5 513.7 316.5 514.1 318.4 514.3 320.2 514.4 322.0 514.6 329.4 514.6 335.0" stroke="#4f6ff0" stroke-width="1.05"/>
<path d="M412.0 335.0 412.0 266.3 412.0 263.2 412.1 260.1 412.4 253.8 412.7 247.6 412.8 244.5 413.0 241.3 413.3 238.2 413.6 235.1 413.9 232.0 414.3 228.9 414.7 225.8 415.3 222.8 416.3 219.8 417.8 217.1 420.1 215.1 421.1 214.7 422.2 214.4 423.3 214.1 426.7 213.8 431.2 213.5 440.1 213.3 445.7 213.2 448.0 213.3 452.4 213.9 454.7 214.2 456.9 214.7 460.1 215.6 462.2 216.3 464.3 217.1 467.3 218.6 469.2 219.7 471.1 220.9 473.8 222.8 475.6 224.1 478.1 226.3 480.5 228.6 482.8 231.0 485.0 233.5 487.1 236.1 489.2 238.8 491.0 241.5 492.8 244.3 494.5 247.2 495.3 248.8 496.1 250.5 497.6 253.9 499.0 257.4 500.2 260.8 501.4 264.3 502.6 267.8 504.1 273.2 505.1 276.7 506.4 282.1 509.3 294.8 511.1 302.0 511.9 305.6 512.7 309.2 514.1 316.5 514.4 318.3 514.6 320.2 514.7 322.0 514.9 329.4 514.9 335.0" stroke="#f02d2d" stroke-width="1.05"/>
<path d="M412.0 335.0 412.0 267.7 412.0 264.6 412.1 261.6 412.5 252.4 412.7 246.3 412.9 243.3 413.2 240.2 413.5 237.2 413.8 234.1 414.2 231.1 414.7 228.1 415.3 225.1 416.3 222.2 417.8 219.6 420.1 217.6 421.1 217.2 422.2 216.9 423.3 216.6 426.6 216.2 431.0 215.9 438.7 215.6 445.4 215.5 447.6 215.5 452.0 216.0 454.2 216.3 457.5 217.0 459.6 217.5 461.7 218.1 463.7 218.9 466.7 220.2 468.7 221.2 471.5 222.9 474.2 224.7 476.8 226.7 479.3 228.8 481.6 231.1 483.9 233.4 486.1 235.8 488.3 238.3 490.9 241.8 492.8 244.5 493.9 246.3 495.4 248.8 496.2 250.5 497.7 253.9 499.1 257.3 500.5 260.7 501.8 264.2 503.0 267.7 504.1 271.2 505.2 274.8 506.2 278.4 507.5 283.8 509.3 291.0 511.8 301.9 512.6 305.5 513.3 309.1 514.6 316.4 514.9 318.3 515.1 320.1 515.2 322.0 515.4 329.4 515.4 335.0" stroke="#4caa4c" stroke-width="1.25"/>
<path d="M412.0 335.0 412.0 270.3 412.0 267.4 412.2 261.5 412.5 252.7 412.6 249.8 412.8 246.8 413.1 243.9 413.4 241.0 413.7 238.1 414.2 235.2 414.7 232.3 415.4 229.4 416.3 226.7 417.9 224.2 420.1 222.3 421.1 221.9 423.2 221.3 426.4 220.8 430.7 220.3 437.2 219.9 444.7 219.6 446.9 219.7 451.2 220.0 454.4 220.4 457.6 220.9 459.7 221.4 461.8 221.9 464.8 223.0 466.7 223.7 469.6 225.1 472.4 226.5 475.0 228.2 477.6 230.0 480.1 231.9 482.5 234.0 484.8 236.1 487.1 238.4 489.9 241.5 492.6 244.7 493.9 246.3 494.5 247.2 495.5 248.8 496.4 250.4 498.0 253.8 500.3 258.8 501.7 262.2 503.1 265.7 504.4 269.2 505.6 272.7 506.8 276.3 507.8 279.8 509.3 285.2 510.6 290.7 512.3 298.0 513.1 301.6 513.8 305.3 514.4 309.0 515.6 316.3 515.8 318.2 516.0 320.0 516.1 321.9 516.2 329.4 516.3 335.0" stroke="#ff9a42" stroke-width="1.10"/>
<path d="M412.0 335.0 412.0 272.8 412.0 269.9 412.1 264.3 412.4 255.8 412.5 253.0 412.7 250.1 412.9 247.3 413.3 244.5 413.7 241.7 414.1 238.9 414.7 236.2 415.4 233.4 416.4 230.8 417.9 228.5 420.1 226.7 421.1 226.3 423.1 225.6 426.2 225.0 430.4 224.5 435.7 224.0 442.0 223.6 445.2 223.5 448.4 223.6 452.6 223.8 455.7 224.2 458.8 224.7 461.9 225.4 464.8 226.2 467.7 227.2 470.6 228.4 473.3 229.7 476.0 231.2 478.6 232.8 481.1 234.6 484.3 237.2 486.6 239.2 492.5 244.9 493.8 246.4 494.5 247.2 495.6 248.7 496.5 250.3 497.4 252.0 499.0 255.4 501.5 260.4 503.1 263.7 503.8 265.4 505.2 268.9 506.5 272.4 507.8 276.0 508.9 279.5 510.5 284.9 511.5 288.6 512.3 292.2 513.6 297.7 514.4 301.4 515.0 305.1 515.5 308.8 516.5 316.2 516.7 318.1 516.8 320.0 517.0 323.7 517.1 331.2 517.1 335.0" stroke="#9a9a9a" stroke-width="1.05"/>
<path d="M412.0 335.0 412.0 275.4 412.1 270.0 412.3 259.2 412.3 256.5 412.5 253.8 412.8 251.1 413.1 248.4 413.6 245.8 414.1 243.1 414.7 240.5 415.4 237.9 416.4 235.4 418.0 233.2 420.1 231.5 422.0 230.7 424.0 230.2 427.0 229.5 431.1 228.9 435.2 228.4 441.4 227.9 444.5 227.7 448.6 227.7 452.8 227.9 456.8 228.2 459.9 228.6 462.8 229.2 465.8 229.9 469.6 231.0 472.4 232.0 475.1 233.2 477.8 234.6 480.4 236.1 483.7 238.3 486.1 240.2 490.8 244.0 493.1 245.8 494.5 247.2 495.7 248.7 496.7 250.3 497.6 251.9 499.3 255.3 502.0 260.2 503.8 263.5 504.6 265.2 506.1 268.6 507.5 272.1 508.9 275.6 510.1 279.2 511.2 282.8 512.3 286.4 513.3 290.0 514.6 295.6 515.4 299.3 515.7 301.1 516.3 304.9 516.7 308.6 517.5 316.1 517.8 319.9 517.9 325.5 518.0 333.1 518.0 335.0" stroke="#b86262" stroke-width="1.20"/>
<path d="M412.0 335.0 412.0 279.2 412.0 271.6 412.2 261.4 412.3 258.9 412.6 256.4 413.0 253.9 413.5 251.4 414.0 248.9 414.6 246.5 415.4 244.1 416.5 241.8 418.1 239.9 420.1 238.3 421.9 237.5 423.8 236.8 426.7 236.1 430.6 235.3 434.6 234.6 439.5 234.0 443.5 233.7 448.5 233.5 453.5 233.4 457.5 233.5 461.4 233.7 464.3 234.1 469.2 234.9 472.0 235.5 475.7 236.7 477.6 237.4 480.2 238.6 483.7 240.5 487.1 242.5 489.6 244.1 492.9 246.1 493.7 246.6 494.5 247.2 495.8 248.6 496.9 250.1 497.8 251.8 499.7 255.1 503.7 261.5 504.7 263.2 505.6 264.8 506.5 266.5 508.1 269.9 509.7 273.4 511.1 276.9 512.4 280.5 513.6 284.1 514.8 287.7 515.3 289.6 516.2 293.3 517.0 297.0 517.4 298.9 517.7 300.8 518.1 304.6 518.5 310.2 518.9 315.9 519.1 319.7 519.2 327.4 519.2 335.0" stroke="#ff1dff" stroke-width="1.30"/>
<path d="M412.0 335.0 412.0 265.3 412.1 262.9 412.5 260.5 412.8 258.1 413.4 255.8 414.0 253.5 414.6 251.2 415.4 248.9 416.5 246.8 418.2 245.0 420.1 243.6 421.8 242.7 423.7 242.0 426.4 241.1 430.2 240.2 434.1 239.4 438.9 238.8 443.8 238.2 452.5 237.6 457.4 237.4 461.3 237.3 465.2 237.4 468.1 237.6 471.0 238.0 474.9 238.7 476.7 239.2 479.5 240.2 483.1 241.6 489.2 244.7 492.8 246.2 493.7 246.7 494.5 247.2 495.9 248.5 497.0 250.1 498.0 251.7 500.0 255.0 504.4 261.3 505.4 262.9 506.5 264.5 507.4 266.2 509.2 269.6 510.8 273.1 512.3 276.6 513.8 280.1 515.1 283.7 516.3 287.4 516.8 289.2 517.8 293.0 518.6 296.7 518.9 298.6 519.2 300.5 519.3 302.4 519.7 308.1 519.9 313.9 520.1 319.7 520.2 329.2 520.2 335.0" stroke="#2ecad8" stroke-width="1.30"/>
<path d="M412.00 324.40V263.00" stroke="#2ecad8" stroke-width="1.4"/>
</g>
<g clip-path="url(#cp13)" fill="none" stroke-linejoin="round" stroke-linecap="butt">
<path d="M580.0 335.0 580.0 294.4 580.0 291.8 580.2 286.7 580.5 279.1 580.8 271.5 581.0 266.4 581.3 261.4 581.7 256.3 582.0 253.8 582.3 251.3 582.6 248.7 583.0 246.2 583.6 243.8 584.4 241.4 585.5 239.1 587.1 237.1 588.0 236.5 588.9 236.1 590.8 235.4 592.9 235.0 595.9 234.6 603.1 234.0 611.3 233.3 621.6 232.5 625.7 232.3 628.8 232.3 631.9 232.4 636.0 232.7 638.1 233.1 640.1 233.6 643.0 234.5 644.9 235.3 646.8 236.2 650.4 238.3 653.0 239.9 660.6 245.2 662.2 246.5 663.8 247.8 665.2 249.1 666.5 250.5 667.7 252.0 668.9 253.5 670.0 255.0 671.1 256.6 672.2 258.1 674.2 261.4 676.1 264.7 677.9 268.0 679.7 271.4 681.3 274.9 682.8 278.4 683.5 280.2 684.2 281.9 684.8 283.7 685.3 285.6 686.1 289.3 686.4 291.2 686.7 293.1 687.0 295.0 687.1 296.9 687.5 302.6 687.7 308.3 687.9 314.0 688.0 319.7 688.0 335.0" stroke="#262626" stroke-width="1.40"/>
<path d="M580.0 335.0 580.0 294.9 580.0 292.3 580.2 287.3 580.5 279.8 580.8 272.3 581.0 267.3 581.3 262.3 581.7 257.3 582.0 254.8 582.3 252.3 582.6 249.8 583.1 247.3 583.7 244.9 584.5 242.5 585.5 240.3 587.1 238.3 588.0 237.8 588.9 237.3 590.8 236.6 592.8 236.2 595.9 235.8 605.1 235.0 612.3 234.3 621.5 233.6 625.7 233.4 628.7 233.3 631.8 233.4 635.9 233.7 638.0 234.0 640.0 234.5 642.9 235.4 644.8 236.2 647.6 237.5 651.2 239.5 653.8 241.1 660.6 245.8 662.2 247.0 663.8 248.3 665.2 249.6 666.4 251.0 667.7 252.5 668.9 253.9 670.0 255.4 671.2 257.0 672.2 258.5 674.3 261.7 676.2 265.0 678.0 268.3 679.8 271.7 680.6 273.4 682.9 278.6 683.6 280.4 684.3 282.2 684.8 284.0 685.3 285.8 686.1 289.5 686.4 291.4 686.7 293.3 687.0 295.1 687.1 297.0 687.5 302.7 687.7 308.4 687.9 314.1 688.0 319.8 688.0 335.0" stroke="#4f6ff0" stroke-width="1.05"/>
<path d="M580.0 335.0 580.0 295.5 580.0 293.1 580.2 288.2 580.5 280.8 580.7 275.8 580.9 270.9 581.2 266.0 581.5 261.1 581.7 258.6 582.0 256.2 582.3 253.7 582.6 251.3 583.1 248.8 583.7 246.5 584.5 244.1 585.6 241.9 587.1 240.0 588.0 239.4 588.9 239.0 590.8 238.3 592.8 237.8 595.9 237.4 612.2 235.8 621.4 235.1 625.5 234.8 628.6 234.8 631.7 234.8 635.8 235.1 637.8 235.4 639.8 235.8 642.8 236.7 644.7 237.4 647.5 238.6 651.1 240.5 653.7 242.1 659.7 246.0 662.2 247.7 663.8 249.0 665.1 250.3 666.4 251.7 667.7 253.1 668.9 254.6 670.1 256.0 671.2 257.5 672.3 259.1 674.3 262.2 676.3 265.4 678.1 268.7 679.9 272.1 680.7 273.8 682.2 277.2 683.7 280.7 684.4 282.5 684.9 284.3 685.4 286.1 686.1 289.8 686.5 291.6 686.8 293.5 687.0 295.4 687.2 297.3 687.5 302.9 687.7 308.6 687.9 314.2 688.0 319.9 688.0 335.0" stroke="#f02d2d" stroke-width="1.05"/>
<path d="M580.0 335.0 580.0 296.6 580.1 291.8 580.4 282.2 580.6 277.4 580.8 272.6 581.1 267.8 581.5 263.0 581.7 260.6 582.0 258.3 582.3 255.9 582.7 253.5 583.1 251.2 583.8 248.8 584.5 246.6 585.6 244.4 587.1 242.6 588.0 242.0 588.9 241.6 590.8 240.8 592.8 240.4 595.8 239.9 612.1 238.2 621.3 237.3 625.4 237.0 628.4 236.9 631.5 237.0 635.6 237.2 637.6 237.4 640.6 238.0 643.5 238.9 645.4 239.6 650.0 241.6 652.7 243.0 658.8 246.6 661.4 248.2 663.0 249.4 663.8 250.1 665.1 251.4 667.7 254.1 670.1 256.9 671.3 258.4 672.4 259.9 674.5 262.9 676.4 266.1 678.3 269.3 680.1 272.6 680.9 274.3 682.4 277.7 683.9 281.2 684.5 282.9 685.0 284.7 685.5 286.5 686.2 290.2 686.5 292.0 686.8 293.9 687.0 295.7 687.2 297.6 687.5 303.2 687.7 308.8 687.9 314.4 688.0 320.0 688.0 335.0" stroke="#4caa4c" stroke-width="1.25"/>
<path d="M580.0 335.0 580.0 298.5 580.1 294.0 580.4 284.9 580.5 280.3 580.8 275.8 581.1 271.2 581.5 266.7 581.7 264.4 582.0 262.2 582.3 259.9 582.7 257.7 583.2 255.5 583.8 253.3 584.6 251.1 585.6 249.1 587.1 247.4 587.9 246.8 588.8 246.3 590.7 245.6 592.7 245.1 595.7 244.5 612.9 242.4 622.0 241.4 626.1 241.1 629.1 241.0 633.2 241.0 636.2 241.1 638.2 241.3 641.2 241.9 643.1 242.3 646.0 243.2 650.6 244.9 653.3 246.1 658.7 248.8 661.3 250.3 663.0 251.4 663.8 252.1 665.1 253.3 668.9 257.3 670.2 258.6 671.4 260.0 672.5 261.4 673.6 262.8 675.7 265.8 677.7 268.9 679.6 272.0 680.5 273.6 681.3 275.3 682.1 276.9 683.5 280.3 684.2 282.0 684.7 283.8 685.2 285.5 685.7 287.3 686.3 290.9 686.6 292.8 686.9 294.6 687.1 296.4 687.2 298.2 687.6 305.6 687.8 311.1 688.0 316.6 688.0 322.1 688.0 335.0" stroke="#ff9a42" stroke-width="1.10"/>
<path d="M580.0 335.0 580.0 300.4 580.1 296.0 580.3 285.2 580.4 283.0 580.7 278.7 581.0 274.4 581.5 270.1 581.7 268.0 582.0 265.8 582.4 263.7 582.8 261.6 583.3 259.5 583.9 257.4 584.7 255.4 585.7 253.5 587.1 251.8 587.9 251.3 589.7 250.4 591.7 249.7 594.6 249.0 597.6 248.5 607.6 247.1 614.7 246.2 622.7 245.2 626.7 244.8 629.8 244.7 634.8 244.6 636.8 244.7 639.8 245.1 642.8 245.5 645.7 246.2 650.4 247.6 653.1 248.6 657.7 250.5 660.4 251.8 662.1 252.8 663.8 253.9 665.1 255.2 666.3 256.5 670.2 260.2 671.5 261.4 672.6 262.8 673.8 264.2 674.9 265.6 676.0 267.0 677.0 268.5 679.0 271.5 679.9 273.0 680.8 274.6 681.7 276.2 682.4 277.8 683.8 281.2 684.4 282.9 685.0 284.6 685.4 286.3 685.8 288.1 686.5 291.7 686.7 293.4 687.1 297.0 687.4 300.6 687.7 307.9 687.9 313.3 688.0 318.7 688.0 335.0" stroke="#9a9a9a" stroke-width="1.05"/>
<path d="M580.0 335.0 580.0 302.4 580.1 296.2 580.2 288.1 580.3 286.0 580.4 284.0 581.0 277.9 581.5 273.9 581.7 271.9 582.1 269.8 582.4 267.8 582.9 265.9 583.4 263.9 584.0 262.0 584.8 260.1 585.8 258.3 587.1 256.8 587.9 256.2 589.7 255.2 591.6 254.5 594.5 253.8 597.5 253.2 606.4 251.8 614.4 250.6 622.4 249.4 626.4 249.0 629.4 248.8 634.4 248.6 637.4 248.6 641.4 249.0 644.3 249.4 650.1 250.6 652.9 251.3 656.6 252.5 659.4 253.5 661.2 254.4 663.0 255.4 663.8 255.9 665.1 257.2 666.3 258.4 670.3 261.9 671.6 263.1 672.8 264.3 674.0 265.6 675.1 267.0 676.2 268.3 677.3 269.7 679.3 272.6 680.3 274.1 681.2 275.6 682.0 277.2 682.8 278.8 683.5 280.4 684.2 282.1 684.7 283.8 685.2 285.5 685.6 287.2 686.0 288.9 686.6 292.4 687.0 296.0 687.3 299.5 687.6 306.6 687.8 311.9 688.0 317.2 688.0 335.0" stroke="#b86262" stroke-width="1.20"/>
<path d="M580.0 335.0 580.0 305.2 580.1 292.1 580.2 290.2 580.3 288.4 580.9 282.8 581.4 279.1 581.7 277.3 582.1 275.5 582.5 273.7 582.9 271.8 583.5 270.1 584.1 268.3 584.9 266.6 585.9 265.0 587.1 263.6 587.9 263.1 589.7 262.1 591.5 261.3 594.4 260.5 597.3 259.7 601.2 259.0 606.2 258.2 615.0 256.6 622.9 255.3 626.9 254.7 632.9 254.2 636.9 254.0 640.8 254.0 644.8 254.3 650.6 254.8 652.6 255.1 655.5 255.7 658.4 256.4 660.2 257.0 662.1 257.8 663.8 258.8 665.0 260.0 666.2 261.2 667.6 262.3 670.4 264.3 671.7 265.3 673.0 266.5 674.2 267.7 675.4 268.9 676.6 270.2 677.7 271.5 679.8 274.3 680.8 275.7 681.7 277.1 682.6 278.6 683.4 280.2 684.0 281.8 684.6 283.4 685.2 285.0 685.6 286.7 685.9 288.4 686.5 291.8 687.0 295.2 687.2 298.7 687.6 305.6 687.9 312.5 688.0 317.7 688.0 335.0" stroke="#ff1dff" stroke-width="1.30"/>
<path d="M580.0 335.0 580.0 295.2 580.1 293.5 580.2 291.8 580.9 286.6 581.4 283.2 581.7 281.5 582.1 279.8 582.5 278.2 583.0 276.5 583.6 274.9 584.2 273.3 585.0 271.7 585.9 270.3 587.1 269.0 587.9 268.4 589.6 267.4 591.5 266.6 594.3 265.7 597.2 264.9 600.1 264.2 606.0 263.2 614.7 261.4 622.6 259.9 626.5 259.2 633.4 258.5 637.4 258.1 641.4 257.9 650.3 257.9 652.3 258.0 655.3 258.4 658.2 258.9 660.2 259.4 662.0 260.1 663.8 261.0 665.0 262.2 666.2 263.4 667.6 264.4 670.4 266.2 671.8 267.1 673.2 268.2 674.5 269.3 675.7 270.4 676.9 271.6 678.0 272.9 679.1 274.2 680.2 275.5 681.2 276.9 682.1 278.3 683.0 279.7 683.8 281.2 684.4 282.8 685.0 284.4 685.5 286.0 685.9 287.7 686.5 291.0 686.9 294.4 687.2 297.7 687.6 304.5 687.8 311.3 687.9 316.4 688.0 321.4 688.0 335.0" stroke="#2ecad8" stroke-width="1.30"/>
<path d="M580.00 324.40V293.00" stroke="#2ecad8" stroke-width="1.4"/>
</g>
<path d="M28.50 160.95v-1.50M28.50 0.50v1.50M31.39 160.95v-1.50M31.39 0.50v1.50M33.83 160.95v-1.50M33.83 0.50v1.50M35.94 160.95v-1.50M35.94 0.50v1.50M37.80 160.95v-1.50M37.80 0.50v1.50M39.47 160.95v-2.80M39.47 0.50v2.80M50.45 160.95v-1.50M50.45 0.50v1.50M56.86 160.95v-1.50M56.86 0.50v1.50M61.42 160.95v-1.50M61.42 0.50v1.50M64.95 160.95v-1.50M64.95 0.50v1.50M67.84 160.95v-1.50M67.84 0.50v1.50M70.28 160.95v-1.50M70.28 0.50v1.50M72.39 160.95v-1.50M72.39 0.50v1.50M74.26 160.95v-1.50M74.26 0.50v1.50M75.92 160.95v-2.80M75.92 0.50v2.80M86.90 160.95v-1.50M86.90 0.50v1.50M93.32 160.95v-1.50M93.32 0.50v1.50M97.87 160.95v-1.50M97.87 0.50v1.50M101.40 160.95v-1.50M101.40 0.50v1.50M104.29 160.95v-1.50M104.29 0.50v1.50M106.73 160.95v-1.50M106.73 0.50v1.50M108.84 160.95v-1.50M108.84 0.50v1.50M110.71 160.95v-1.50M110.71 0.50v1.50M112.38 160.95v-2.80M112.38 0.50v2.80M123.35 160.95v-1.50M123.35 0.50v1.50M129.77 160.95v-1.50M129.77 0.50v1.50M134.32 160.95v-1.50M134.32 0.50v1.50M137.85 160.95v-1.50M137.85 0.50v1.50M140.74 160.95v-1.50M140.74 0.50v1.50M143.18 160.95v-1.50M143.18 0.50v1.50M145.29 160.95v-1.50M145.29 0.50v1.50M147.16 160.95v-1.50M147.16 0.50v1.50M148.83 160.95v-2.80M148.83 0.50v2.80M159.80 160.95v-1.50M159.80 0.50v1.50M166.22 160.95v-1.50M166.22 0.50v1.50M170.77 160.95v-1.50M170.77 0.50v1.50M174.30 160.95v-1.50M174.30 0.50v1.50M177.19 160.95v-1.50M177.19 0.50v1.50M179.63 160.95v-1.50M179.63 0.50v1.50M181.74 160.95v-1.50M181.74 0.50v1.50M183.61 160.95v-1.50M183.61 0.50v1.50M185.28 160.95v-2.80M185.28 0.50v2.80M196.25 160.95v-1.50M196.25 0.50v1.50M28.50 160.95h1.50M196.40 160.95h-1.50M28.50 156.70h1.50M196.40 156.70h-1.50M28.50 153.69h1.50M196.40 153.69h-1.50M28.50 151.35h1.50M196.40 151.35h-1.50M28.50 149.44h1.50M196.40 149.44h-1.50M28.50 147.83h1.50M196.40 147.83h-1.50M28.50 146.43h1.50M196.40 146.43h-1.50M28.50 145.20h1.50M196.40 145.20h-1.50M28.50 144.09h2.80M196.40 144.09h-2.80M28.50 136.83h1.50M196.40 136.83h-1.50M28.50 132.59h1.50M196.40 132.59h-1.50M28.50 129.57h1.50M196.40 129.57h-1.50M28.50 127.24h1.50M196.40 127.24h-1.50M28.50 125.33h1.50M196.40 125.33h-1.50M28.50 123.71h1.50M196.40 123.71h-1.50M28.50 122.31h1.50M196.40 122.31h-1.50M28.50 121.08h1.50M196.40 121.08h-1.50M28.50 119.98h2.80M196.40 119.98h-2.80M28.50 112.72h1.50M196.40 112.72h-1.50M28.50 108.47h1.50M196.40 108.47h-1.50M28.50 105.46h1.50M196.40 105.46h-1.50M28.50 103.12h1.50M196.40 103.12h-1.50M28.50 101.21h1.50M196.40 101.21h-1.50M28.50 99.60h1.50M196.40 99.60h-1.50M28.50 98.20h1.50M196.40 98.20h-1.50M28.50 96.96h1.50M196.40 96.96h-1.50M28.50 95.86h2.80M196.40 95.86h-2.80M28.50 88.60h1.50M196.40 88.60h-1.50M28.50 84.35h1.50M196.40 84.35h-1.50M28.50 81.34h1.50M196.40 81.34h-1.50M28.50 79.00h1.50M196.40 79.00h-1.50M28.50 77.10h1.50M196.40 77.10h-1.50M28.50 75.48h1.50M196.40 75.48h-1.50M28.50 74.08h1.50M196.40 74.08h-1.50M28.50 72.85h1.50M196.40 72.85h-1.50M28.50 71.75h2.80M196.40 71.75h-2.80M28.50 64.49h1.50M196.40 64.49h-1.50M28.50 60.24h1.50M196.40 60.24h-1.50M28.50 57.23h1.50M196.40 57.23h-1.50M28.50 54.89h1.50M196.40 54.89h-1.50M28.50 52.98h1.50M196.40 52.98h-1.50M28.50 51.36h1.50M196.40 51.36h-1.50M28.50 49.97h1.50M196.40 49.97h-1.50M28.50 48.73h1.50M196.40 48.73h-1.50M28.50 47.63h2.80M196.40 47.63h-2.80M28.50 40.37h1.50M196.40 40.37h-1.50M28.50 36.12h1.50M196.40 36.12h-1.50M28.50 33.11h1.50M196.40 33.11h-1.50M28.50 30.77h1.50M196.40 30.77h-1.50M28.50 28.86h1.50M196.40 28.86h-1.50M28.50 27.25h1.50M196.40 27.25h-1.50M28.50 25.85h1.50M196.40 25.85h-1.50M28.50 24.62h1.50M196.40 24.62h-1.50M28.50 23.51h2.80M196.40 23.51h-2.80M28.50 16.25h1.50M196.40 16.25h-1.50M28.50 12.01h1.50M196.40 12.01h-1.50M28.50 8.99h1.50M196.40 8.99h-1.50M28.50 6.66h1.50M196.40 6.66h-1.50M28.50 4.75h1.50M196.40 4.75h-1.50M28.50 3.13h1.50M196.40 3.13h-1.50M28.50 1.73h1.50M196.40 1.73h-1.50M28.50 0.50h1.50M196.40 0.50h-1.50M196.40 160.95v-1.50M196.40 0.50v1.50M199.29 160.95v-1.50M199.29 0.50v1.50M201.73 160.95v-1.50M201.73 0.50v1.50M203.84 160.95v-1.50M203.84 0.50v1.50M205.70 160.95v-1.50M205.70 0.50v1.50M207.37 160.95v-2.80M207.37 0.50v2.80M218.35 160.95v-1.50M218.35 0.50v1.50M224.76 160.95v-1.50M224.76 0.50v1.50M229.32 160.95v-1.50M229.32 0.50v1.50M232.85 160.95v-1.50M232.85 0.50v1.50M235.74 160.95v-1.50M235.74 0.50v1.50M238.18 160.95v-1.50M238.18 0.50v1.50M240.29 160.95v-1.50M240.29 0.50v1.50M242.16 160.95v-1.50M242.16 0.50v1.50M243.82 160.95v-2.80M243.82 0.50v2.80M254.80 160.95v-1.50M254.80 0.50v1.50M261.22 160.95v-1.50M261.22 0.50v1.50M265.77 160.95v-1.50M265.77 0.50v1.50M269.30 160.95v-1.50M269.30 0.50v1.50M272.19 160.95v-1.50M272.19 0.50v1.50M274.63 160.95v-1.50M274.63 0.50v1.50M276.74 160.95v-1.50M276.74 0.50v1.50M278.61 160.95v-1.50M278.61 0.50v1.50M280.27 160.95v-2.80M280.27 0.50v2.80M291.25 160.95v-1.50M291.25 0.50v1.50M297.67 160.95v-1.50M297.67 0.50v1.50M302.22 160.95v-1.50M302.22 0.50v1.50M305.75 160.95v-1.50M305.75 0.50v1.50M308.64 160.95v-1.50M308.64 0.50v1.50M311.08 160.95v-1.50M311.08 0.50v1.50M313.19 160.95v-1.50M313.19 0.50v1.50M315.06 160.95v-1.50M315.06 0.50v1.50M316.73 160.95v-2.80M316.73 0.50v2.80M327.70 160.95v-1.50M327.70 0.50v1.50M334.12 160.95v-1.50M334.12 0.50v1.50M338.67 160.95v-1.50M338.67 0.50v1.50M342.20 160.95v-1.50M342.20 0.50v1.50M345.09 160.95v-1.50M345.09 0.50v1.50M347.53 160.95v-1.50M347.53 0.50v1.50M349.64 160.95v-1.50M349.64 0.50v1.50M351.51 160.95v-1.50M351.51 0.50v1.50M353.18 160.95v-2.80M353.18 0.50v2.80M364.15 160.95v-1.50M364.15 0.50v1.50M196.40 160.95h1.50M364.20 160.95h-1.50M196.40 156.70h1.50M364.20 156.70h-1.50M196.40 153.69h1.50M364.20 153.69h-1.50M196.40 151.35h1.50M364.20 151.35h-1.50M196.40 149.44h1.50M364.20 149.44h-1.50M196.40 147.83h1.50M364.20 147.83h-1.50M196.40 146.43h1.50M364.20 146.43h-1.50M196.40 145.20h1.50M364.20 145.20h-1.50M196.40 144.09h2.80M364.20 144.09h-2.80M196.40 136.83h1.50M364.20 136.83h-1.50M196.40 132.59h1.50M364.20 132.59h-1.50M196.40 129.57h1.50M364.20 129.57h-1.50M196.40 127.24h1.50M364.20 127.24h-1.50M196.40 125.33h1.50M364.20 125.33h-1.50M196.40 123.71h1.50M364.20 123.71h-1.50M196.40 122.31h1.50M364.20 122.31h-1.50M196.40 121.08h1.50M364.20 121.08h-1.50M196.40 119.98h2.80M364.20 119.98h-2.80M196.40 112.72h1.50M364.20 112.72h-1.50M196.40 108.47h1.50M364.20 108.47h-1.50M196.40 105.46h1.50M364.20 105.46h-1.50M196.40 103.12h1.50M364.20 103.12h-1.50M196.40 101.21h1.50M364.20 101.21h-1.50M196.40 99.60h1.50M364.20 99.60h-1.50M196.40 98.20h1.50M364.20 98.20h-1.50M196.40 96.96h1.50M364.20 96.96h-1.50M196.40 95.86h2.80M364.20 95.86h-2.80M196.40 88.60h1.50M364.20 88.60h-1.50M196.40 84.35h1.50M364.20 84.35h-1.50M196.40 81.34h1.50M364.20 81.34h-1.50M196.40 79.00h1.50M364.20 79.00h-1.50M196.40 77.10h1.50M364.20 77.10h-1.50M196.40 75.48h1.50M364.20 75.48h-1.50M196.40 74.08h1.50M364.20 74.08h-1.50M196.40 72.85h1.50M364.20 72.85h-1.50M196.40 71.75h2.80M364.20 71.75h-2.80M196.40 64.49h1.50M364.20 64.49h-1.50M196.40 60.24h1.50M364.20 60.24h-1.50M196.40 57.23h1.50M364.20 57.23h-1.50M196.40 54.89h1.50M364.20 54.89h-1.50M196.40 52.98h1.50M364.20 52.98h-1.50M196.40 51.36h1.50M364.20 51.36h-1.50M196.40 49.97h1.50M364.20 49.97h-1.50M196.40 48.73h1.50M364.20 48.73h-1.50M196.40 47.63h2.80M364.20 47.63h-2.80M196.40 40.37h1.50M364.20 40.37h-1.50M196.40 36.12h1.50M364.20 36.12h-1.50M196.40 33.11h1.50M364.20 33.11h-1.50M196.40 30.77h1.50M364.20 30.77h-1.50M196.40 28.86h1.50M364.20 28.86h-1.50M196.40 27.25h1.50M364.20 27.25h-1.50M196.40 25.85h1.50M364.20 25.85h-1.50M196.40 24.62h1.50M364.20 24.62h-1.50M196.40 23.51h2.80M364.20 23.51h-2.80M196.40 16.25h1.50M364.20 16.25h-1.50M196.40 12.01h1.50M364.20 12.01h-1.50M196.40 8.99h1.50M364.20 8.99h-1.50M196.40 6.66h1.50M364.20 6.66h-1.50M196.40 4.75h1.50M364.20 4.75h-1.50M196.40 3.13h1.50M364.20 3.13h-1.50M196.40 1.73h1.50M364.20 1.73h-1.50M196.40 0.50h1.50M364.20 0.50h-1.50M364.20 160.95v-1.50M364.20 0.50v1.50M367.09 160.95v-1.50M367.09 0.50v1.50M369.53 160.95v-1.50M369.53 0.50v1.50M371.64 160.95v-1.50M371.64 0.50v1.50M373.50 160.95v-1.50M373.50 0.50v1.50M375.17 160.95v-2.80M375.17 0.50v2.80M386.15 160.95v-1.50M386.15 0.50v1.50M392.56 160.95v-1.50M392.56 0.50v1.50M397.12 160.95v-1.50M397.12 0.50v1.50M400.65 160.95v-1.50M400.65 0.50v1.50M403.54 160.95v-1.50M403.54 0.50v1.50M405.98 160.95v-1.50M405.98 0.50v1.50M408.09 160.95v-1.50M408.09 0.50v1.50M409.96 160.95v-1.50M409.96 0.50v1.50M411.62 160.95v-2.80M411.62 0.50v2.80M422.60 160.95v-1.50M422.60 0.50v1.50M429.02 160.95v-1.50M429.02 0.50v1.50M433.57 160.95v-1.50M433.57 0.50v1.50M437.10 160.95v-1.50M437.10 0.50v1.50M439.99 160.95v-1.50M439.99 0.50v1.50M442.43 160.95v-1.50M442.43 0.50v1.50M444.54 160.95v-1.50M444.54 0.50v1.50M446.41 160.95v-1.50M446.41 0.50v1.50M448.07 160.95v-2.80M448.07 0.50v2.80M459.05 160.95v-1.50M459.05 0.50v1.50M465.47 160.95v-1.50M465.47 0.50v1.50M470.02 160.95v-1.50M470.02 0.50v1.50M473.55 160.95v-1.50M473.55 0.50v1.50M476.44 160.95v-1.50M476.44 0.50v1.50M478.88 160.95v-1.50M478.88 0.50v1.50M480.99 160.95v-1.50M480.99 0.50v1.50M482.86 160.95v-1.50M482.86 0.50v1.50M484.53 160.95v-2.80M484.53 0.50v2.80M495.50 160.95v-1.50M495.50 0.50v1.50M501.92 160.95v-1.50M501.92 0.50v1.50M506.47 160.95v-1.50M506.47 0.50v1.50M510.00 160.95v-1.50M510.00 0.50v1.50M512.89 160.95v-1.50M512.89 0.50v1.50M515.33 160.95v-1.50M515.33 0.50v1.50M517.44 160.95v-1.50M517.44 0.50v1.50M519.31 160.95v-1.50M519.31 0.50v1.50M520.98 160.95v-2.80M520.98 0.50v2.80M531.95 160.95v-1.50M531.95 0.50v1.50M364.20 160.95h1.50M532.00 160.95h-1.50M364.20 156.70h1.50M532.00 156.70h-1.50M364.20 153.69h1.50M532.00 153.69h-1.50M364.20 151.35h1.50M532.00 151.35h-1.50M364.20 149.44h1.50M532.00 149.44h-1.50M364.20 147.83h1.50M532.00 147.83h-1.50M364.20 146.43h1.50M532.00 146.43h-1.50M364.20 145.20h1.50M532.00 145.20h-1.50M364.20 144.09h2.80M532.00 144.09h-2.80M364.20 136.83h1.50M532.00 136.83h-1.50M364.20 132.59h1.50M532.00 132.59h-1.50M364.20 129.57h1.50M532.00 129.57h-1.50M364.20 127.24h1.50M532.00 127.24h-1.50M364.20 125.33h1.50M532.00 125.33h-1.50M364.20 123.71h1.50M532.00 123.71h-1.50M364.20 122.31h1.50M532.00 122.31h-1.50M364.20 121.08h1.50M532.00 121.08h-1.50M364.20 119.98h2.80M532.00 119.98h-2.80M364.20 112.72h1.50M532.00 112.72h-1.50M364.20 108.47h1.50M532.00 108.47h-1.50M364.20 105.46h1.50M532.00 105.46h-1.50M364.20 103.12h1.50M532.00 103.12h-1.50M364.20 101.21h1.50M532.00 101.21h-1.50M364.20 99.60h1.50M532.00 99.60h-1.50M364.20 98.20h1.50M532.00 98.20h-1.50M364.20 96.96h1.50M532.00 96.96h-1.50M364.20 95.86h2.80M532.00 95.86h-2.80M364.20 88.60h1.50M532.00 88.60h-1.50M364.20 84.35h1.50M532.00 84.35h-1.50M364.20 81.34h1.50M532.00 81.34h-1.50M364.20 79.00h1.50M532.00 79.00h-1.50M364.20 77.10h1.50M532.00 77.10h-1.50M364.20 75.48h1.50M532.00 75.48h-1.50M364.20 74.08h1.50M532.00 74.08h-1.50M364.20 72.85h1.50M532.00 72.85h-1.50M364.20 71.75h2.80M532.00 71.75h-2.80M364.20 64.49h1.50M532.00 64.49h-1.50M364.20 60.24h1.50M532.00 60.24h-1.50M364.20 57.23h1.50M532.00 57.23h-1.50M364.20 54.89h1.50M532.00 54.89h-1.50M364.20 52.98h1.50M532.00 52.98h-1.50M364.20 51.36h1.50M532.00 51.36h-1.50M364.20 49.97h1.50M532.00 49.97h-1.50M364.20 48.73h1.50M532.00 48.73h-1.50M364.20 47.63h2.80M532.00 47.63h-2.80M364.20 40.37h1.50M532.00 40.37h-1.50M364.20 36.12h1.50M532.00 36.12h-1.50M364.20 33.11h1.50M532.00 33.11h-1.50M364.20 30.77h1.50M532.00 30.77h-1.50M364.20 28.86h1.50M532.00 28.86h-1.50M364.20 27.25h1.50M532.00 27.25h-1.50M364.20 25.85h1.50M532.00 25.85h-1.50M364.20 24.62h1.50M532.00 24.62h-1.50M364.20 23.51h2.80M532.00 23.51h-2.80M364.20 16.25h1.50M532.00 16.25h-1.50M364.20 12.01h1.50M532.00 12.01h-1.50M364.20 8.99h1.50M532.00 8.99h-1.50M364.20 6.66h1.50M532.00 6.66h-1.50M364.20 4.75h1.50M532.00 4.75h-1.50M364.20 3.13h1.50M532.00 3.13h-1.50M364.20 1.73h1.50M532.00 1.73h-1.50M364.20 0.50h1.50M532.00 0.50h-1.50M532.00 160.95v-1.50M532.00 0.50v1.50M534.89 160.95v-1.50M534.89 0.50v1.50M537.33 160.95v-1.50M537.33 0.50v1.50M539.44 160.95v-1.50M539.44 0.50v1.50M541.30 160.95v-1.50M541.30 0.50v1.50M542.97 160.95v-2.80M542.97 0.50v2.80M553.95 160.95v-1.50M553.95 0.50v1.50M560.36 160.95v-1.50M560.36 0.50v1.50M564.92 160.95v-1.50M564.92 0.50v1.50M568.45 160.95v-1.50M568.45 0.50v1.50M571.34 160.95v-1.50M571.34 0.50v1.50M573.78 160.95v-1.50M573.78 0.50v1.50M575.89 160.95v-1.50M575.89 0.50v1.50M577.76 160.95v-1.50M577.76 0.50v1.50M579.42 160.95v-2.80M579.42 0.50v2.80M590.40 160.95v-1.50M590.40 0.50v1.50M596.82 160.95v-1.50M596.82 0.50v1.50M601.37 160.95v-1.50M601.37 0.50v1.50M604.90 160.95v-1.50M604.90 0.50v1.50M607.79 160.95v-1.50M607.79 0.50v1.50M610.23 160.95v-1.50M610.23 0.50v1.50M612.34 160.95v-1.50M612.34 0.50v1.50M614.21 160.95v-1.50M614.21 0.50v1.50M615.88 160.95v-2.80M615.88 0.50v2.80M626.85 160.95v-1.50M626.85 0.50v1.50M633.27 160.95v-1.50M633.27 0.50v1.50M637.82 160.95v-1.50M637.82 0.50v1.50M641.35 160.95v-1.50M641.35 0.50v1.50M644.24 160.95v-1.50M644.24 0.50v1.50M646.68 160.95v-1.50M646.68 0.50v1.50M648.79 160.95v-1.50M648.79 0.50v1.50M650.66 160.95v-1.50M650.66 0.50v1.50M652.33 160.95v-2.80M652.33 0.50v2.80M663.30 160.95v-1.50M663.30 0.50v1.50M669.72 160.95v-1.50M669.72 0.50v1.50M674.27 160.95v-1.50M674.27 0.50v1.50M677.80 160.95v-1.50M677.80 0.50v1.50M680.69 160.95v-1.50M680.69 0.50v1.50M683.13 160.95v-1.50M683.13 0.50v1.50M685.24 160.95v-1.50M685.24 0.50v1.50M687.11 160.95v-1.50M687.11 0.50v1.50M688.78 160.95v-2.80M688.78 0.50v2.80M699.75 160.95v-1.50M699.75 0.50v1.50M532.00 160.95h1.50M699.50 160.95h-1.50M532.00 156.70h1.50M699.50 156.70h-1.50M532.00 153.69h1.50M699.50 153.69h-1.50M532.00 151.35h1.50M699.50 151.35h-1.50M532.00 149.44h1.50M699.50 149.44h-1.50M532.00 147.83h1.50M699.50 147.83h-1.50M532.00 146.43h1.50M699.50 146.43h-1.50M532.00 145.20h1.50M699.50 145.20h-1.50M532.00 144.09h2.80M699.50 144.09h-2.80M532.00 136.83h1.50M699.50 136.83h-1.50M532.00 132.59h1.50M699.50 132.59h-1.50M532.00 129.57h1.50M699.50 129.57h-1.50M532.00 127.24h1.50M699.50 127.24h-1.50M532.00 125.33h1.50M699.50 125.33h-1.50M532.00 123.71h1.50M699.50 123.71h-1.50M532.00 122.31h1.50M699.50 122.31h-1.50M532.00 121.08h1.50M699.50 121.08h-1.50M532.00 119.98h2.80M699.50 119.98h-2.80M532.00 112.72h1.50M699.50 112.72h-1.50M532.00 108.47h1.50M699.50 108.47h-1.50M532.00 105.46h1.50M699.50 105.46h-1.50M532.00 103.12h1.50M699.50 103.12h-1.50M532.00 101.21h1.50M699.50 101.21h-1.50M532.00 99.60h1.50M699.50 99.60h-1.50M532.00 98.20h1.50M699.50 98.20h-1.50M532.00 96.96h1.50M699.50 96.96h-1.50M532.00 95.86h2.80M699.50 95.86h-2.80M532.00 88.60h1.50M699.50 88.60h-1.50M532.00 84.35h1.50M699.50 84.35h-1.50M532.00 81.34h1.50M699.50 81.34h-1.50M532.00 79.00h1.50M699.50 79.00h-1.50M532.00 77.10h1.50M699.50 77.10h-1.50M532.00 75.48h1.50M699.50 75.48h-1.50M532.00 74.08h1.50M699.50 74.08h-1.50M532.00 72.85h1.50M699.50 72.85h-1.50M532.00 71.75h2.80M699.50 71.75h-2.80M532.00 64.49h1.50M699.50 64.49h-1.50M532.00 60.24h1.50M699.50 60.24h-1.50M532.00 57.23h1.50M699.50 57.23h-1.50M532.00 54.89h1.50M699.50 54.89h-1.50M532.00 52.98h1.50M699.50 52.98h-1.50M532.00 51.36h1.50M699.50 51.36h-1.50M532.00 49.97h1.50M699.50 49.97h-1.50M532.00 48.73h1.50M699.50 48.73h-1.50M532.00 47.63h2.80M699.50 47.63h-2.80M532.00 40.37h1.50M699.50 40.37h-1.50M532.00 36.12h1.50M699.50 36.12h-1.50M532.00 33.11h1.50M699.50 33.11h-1.50M532.00 30.77h1.50M699.50 30.77h-1.50M532.00 28.86h1.50M699.50 28.86h-1.50M532.00 27.25h1.50M699.50 27.25h-1.50M532.00 25.85h1.50M699.50 25.85h-1.50M532.00 24.62h1.50M699.50 24.62h-1.50M532.00 23.51h2.80M699.50 23.51h-2.80M532.00 16.25h1.50M699.50 16.25h-1.50M532.00 12.01h1.50M699.50 12.01h-1.50M532.00 8.99h1.50M699.50 8.99h-1.50M532.00 6.66h1.50M699.50 6.66h-1.50M532.00 4.75h1.50M699.50 4.75h-1.50M532.00 3.13h1.50M699.50 3.13h-1.50M532.00 1.73h1.50M699.50 1.73h-1.50M532.00 0.50h1.50M699.50 0.50h-1.50M28.50 321.40v-1.50M28.50 160.95v1.50M31.39 321.40v-1.50M31.39 160.95v1.50M33.83 321.40v-1.50M33.83 160.95v1.50M35.94 321.40v-1.50M35.94 160.95v1.50M37.80 321.40v-1.50M37.80 160.95v1.50M39.47 321.40v-2.80M39.47 160.95v2.80M50.45 321.40v-1.50M50.45 160.95v1.50M56.86 321.40v-1.50M56.86 160.95v1.50M61.42 321.40v-1.50M61.42 160.95v1.50M64.95 321.40v-1.50M64.95 160.95v1.50M67.84 321.40v-1.50M67.84 160.95v1.50M70.28 321.40v-1.50M70.28 160.95v1.50M72.39 321.40v-1.50M72.39 160.95v1.50M74.26 321.40v-1.50M74.26 160.95v1.50M75.92 321.40v-2.80M75.92 160.95v2.80M86.90 321.40v-1.50M86.90 160.95v1.50M93.32 321.40v-1.50M93.32 160.95v1.50M97.87 321.40v-1.50M97.87 160.95v1.50M101.40 321.40v-1.50M101.40 160.95v1.50M104.29 321.40v-1.50M104.29 160.95v1.50M106.73 321.40v-1.50M106.73 160.95v1.50M108.84 321.40v-1.50M108.84 160.95v1.50M110.71 321.40v-1.50M110.71 160.95v1.50M112.38 321.40v-2.80M112.38 160.95v2.80M123.35 321.40v-1.50M123.35 160.95v1.50M129.77 321.40v-1.50M129.77 160.95v1.50M134.32 321.40v-1.50M134.32 160.95v1.50M137.85 321.40v-1.50M137.85 160.95v1.50M140.74 321.40v-1.50M140.74 160.95v1.50M143.18 321.40v-1.50M143.18 160.95v1.50M145.29 321.40v-1.50M145.29 160.95v1.50M147.16 321.40v-1.50M147.16 160.95v1.50M148.83 321.40v-2.80M148.83 160.95v2.80M159.80 321.40v-1.50M159.80 160.95v1.50M166.22 321.40v-1.50M166.22 160.95v1.50M170.77 321.40v-1.50M170.77 160.95v1.50M174.30 321.40v-1.50M174.30 160.95v1.50M177.19 321.40v-1.50M177.19 160.95v1.50M179.63 321.40v-1.50M179.63 160.95v1.50M181.74 321.40v-1.50M181.74 160.95v1.50M183.61 321.40v-1.50M183.61 160.95v1.50M185.28 321.40v-2.80M185.28 160.95v2.80M196.25 321.40v-1.50M196.25 160.95v1.50M28.50 321.40h1.50M196.40 321.40h-1.50M28.50 317.15h1.50M196.40 317.15h-1.50M28.50 314.14h1.50M196.40 314.14h-1.50M28.50 311.80h1.50M196.40 311.80h-1.50M28.50 309.89h1.50M196.40 309.89h-1.50M28.50 308.28h1.50M196.40 308.28h-1.50M28.50 306.88h1.50M196.40 306.88h-1.50M28.50 305.65h1.50M196.40 305.65h-1.50M28.50 304.54h2.80M196.40 304.54h-2.80M28.50 297.28h1.50M196.40 297.28h-1.50M28.50 293.04h1.50M196.40 293.04h-1.50M28.50 290.02h1.50M196.40 290.02h-1.50M28.50 287.69h1.50M196.40 287.69h-1.50M28.50 285.78h1.50M196.40 285.78h-1.50M28.50 284.16h1.50M196.40 284.16h-1.50M28.50 282.76h1.50M196.40 282.76h-1.50M28.50 281.53h1.50M196.40 281.53h-1.50M28.50 280.43h2.80M196.40 280.43h-2.80M28.50 273.17h1.50M196.40 273.17h-1.50M28.50 268.92h1.50M196.40 268.92h-1.50M28.50 265.91h1.50M196.40 265.91h-1.50M28.50 263.57h1.50M196.40 263.57h-1.50M28.50 261.66h1.50M196.40 261.66h-1.50M28.50 260.05h1.50M196.40 260.05h-1.50M28.50 258.65h1.50M196.40 258.65h-1.50M28.50 257.41h1.50M196.40 257.41h-1.50M28.50 256.31h2.80M196.40 256.31h-2.80M28.50 249.05h1.50M196.40 249.05h-1.50M28.50 244.80h1.50M196.40 244.80h-1.50M28.50 241.79h1.50M196.40 241.79h-1.50M28.50 239.45h1.50M196.40 239.45h-1.50M28.50 237.55h1.50M196.40 237.55h-1.50M28.50 235.93h1.50M196.40 235.93h-1.50M28.50 234.53h1.50M196.40 234.53h-1.50M28.50 233.30h1.50M196.40 233.30h-1.50M28.50 232.20h2.80M196.40 232.20h-2.80M28.50 224.94h1.50M196.40 224.94h-1.50M28.50 220.69h1.50M196.40 220.69h-1.50M28.50 217.68h1.50M196.40 217.68h-1.50M28.50 215.34h1.50M196.40 215.34h-1.50M28.50 213.43h1.50M196.40 213.43h-1.50M28.50 211.81h1.50M196.40 211.81h-1.50M28.50 210.42h1.50M196.40 210.42h-1.50M28.50 209.18h1.50M196.40 209.18h-1.50M28.50 208.08h2.80M196.40 208.08h-2.80M28.50 200.82h1.50M196.40 200.82h-1.50M28.50 196.57h1.50M196.40 196.57h-1.50M28.50 193.56h1.50M196.40 193.56h-1.50M28.50 191.22h1.50M196.40 191.22h-1.50M28.50 189.31h1.50M196.40 189.31h-1.50M28.50 187.70h1.50M196.40 187.70h-1.50M28.50 186.30h1.50M196.40 186.30h-1.50M28.50 185.07h1.50M196.40 185.07h-1.50M28.50 183.96h2.80M196.40 183.96h-2.80M28.50 176.70h1.50M196.40 176.70h-1.50M28.50 172.46h1.50M196.40 172.46h-1.50M28.50 169.44h1.50M196.40 169.44h-1.50M28.50 167.11h1.50M196.40 167.11h-1.50M28.50 165.20h1.50M196.40 165.20h-1.50M28.50 163.58h1.50M196.40 163.58h-1.50M28.50 162.18h1.50M196.40 162.18h-1.50M28.50 160.95h1.50M196.40 160.95h-1.50M196.40 321.40v-1.50M196.40 160.95v1.50M199.29 321.40v-1.50M199.29 160.95v1.50M201.73 321.40v-1.50M201.73 160.95v1.50M203.84 321.40v-1.50M203.84 160.95v1.50M205.70 321.40v-1.50M205.70 160.95v1.50M207.37 321.40v-2.80M207.37 160.95v2.80M218.35 321.40v-1.50M218.35 160.95v1.50M224.76 321.40v-1.50M224.76 160.95v1.50M229.32 321.40v-1.50M229.32 160.95v1.50M232.85 321.40v-1.50M232.85 160.95v1.50M235.74 321.40v-1.50M235.74 160.95v1.50M238.18 321.40v-1.50M238.18 160.95v1.50M240.29 321.40v-1.50M240.29 160.95v1.50M242.16 321.40v-1.50M242.16 160.95v1.50M243.82 321.40v-2.80M243.82 160.95v2.80M254.80 321.40v-1.50M254.80 160.95v1.50M261.22 321.40v-1.50M261.22 160.95v1.50M265.77 321.40v-1.50M265.77 160.95v1.50M269.30 321.40v-1.50M269.30 160.95v1.50M272.19 321.40v-1.50M272.19 160.95v1.50M274.63 321.40v-1.50M274.63 160.95v1.50M276.74 321.40v-1.50M276.74 160.95v1.50M278.61 321.40v-1.50M278.61 160.95v1.50M280.27 321.40v-2.80M280.27 160.95v2.80M291.25 321.40v-1.50M291.25 160.95v1.50M297.67 321.40v-1.50M297.67 160.95v1.50M302.22 321.40v-1.50M302.22 160.95v1.50M305.75 321.40v-1.50M305.75 160.95v1.50M308.64 321.40v-1.50M308.64 160.95v1.50M311.08 321.40v-1.50M311.08 160.95v1.50M313.19 321.40v-1.50M313.19 160.95v1.50M315.06 321.40v-1.50M315.06 160.95v1.50M316.73 321.40v-2.80M316.73 160.95v2.80M327.70 321.40v-1.50M327.70 160.95v1.50M334.12 321.40v-1.50M334.12 160.95v1.50M338.67 321.40v-1.50M338.67 160.95v1.50M342.20 321.40v-1.50M342.20 160.95v1.50M345.09 321.40v-1.50M345.09 160.95v1.50M347.53 321.40v-1.50M347.53 160.95v1.50M349.64 321.40v-1.50M349.64 160.95v1.50M351.51 321.40v-1.50M351.51 160.95v1.50M353.18 321.40v-2.80M353.18 160.95v2.80M364.15 321.40v-1.50M364.15 160.95v1.50M196.40 321.40h1.50M364.20 321.40h-1.50M196.40 317.15h1.50M364.20 317.15h-1.50M196.40 314.14h1.50M364.20 314.14h-1.50M196.40 311.80h1.50M364.20 311.80h-1.50M196.40 309.89h1.50M364.20 309.89h-1.50M196.40 308.28h1.50M364.20 308.28h-1.50M196.40 306.88h1.50M364.20 306.88h-1.50M196.40 305.65h1.50M364.20 305.65h-1.50M196.40 304.54h2.80M364.20 304.54h-2.80M196.40 297.28h1.50M364.20 297.28h-1.50M196.40 293.04h1.50M364.20 293.04h-1.50M196.40 290.02h1.50M364.20 290.02h-1.50M196.40 287.69h1.50M364.20 287.69h-1.50M196.40 285.78h1.50M364.20 285.78h-1.50M196.40 284.16h1.50M364.20 284.16h-1.50M196.40 282.76h1.50M364.20 282.76h-1.50M196.40 281.53h1.50M364.20 281.53h-1.50M196.40 280.43h2.80M364.20 280.43h-2.80M196.40 273.17h1.50M364.20 273.17h-1.50M196.40 268.92h1.50M364.20 268.92h-1.50M196.40 265.91h1.50M364.20 265.91h-1.50M196.40 263.57h1.50M364.20 263.57h-1.50M196.40 261.66h1.50M364.20 261.66h-1.50M196.40 260.05h1.50M364.20 260.05h-1.50M196.40 258.65h1.50M364.20 258.65h-1.50M196.40 257.41h1.50M364.20 257.41h-1.50M196.40 256.31h2.80M364.20 256.31h-2.80M196.40 249.05h1.50M364.20 249.05h-1.50M196.40 244.80h1.50M364.20 244.80h-1.50M196.40 241.79h1.50M364.20 241.79h-1.50M196.40 239.45h1.50M364.20 239.45h-1.50M196.40 237.55h1.50M364.20 237.55h-1.50M196.40 235.93h1.50M364.20 235.93h-1.50M196.40 234.53h1.50M364.20 234.53h-1.50M196.40 233.30h1.50M364.20 233.30h-1.50M196.40 232.20h2.80M364.20 232.20h-2.80M196.40 224.94h1.50M364.20 224.94h-1.50M196.40 220.69h1.50M364.20 220.69h-1.50M196.40 217.68h1.50M364.20 217.68h-1.50M196.40 215.34h1.50M364.20 215.34h-1.50M196.40 213.43h1.50M364.20 213.43h-1.50M196.40 211.81h1.50M364.20 211.81h-1.50M196.40 210.42h1.50M364.20 210.42h-1.50M196.40 209.18h1.50M364.20 209.18h-1.50M196.40 208.08h2.80M364.20 208.08h-2.80M196.40 200.82h1.50M364.20 200.82h-1.50M196.40 196.57h1.50M364.20 196.57h-1.50M196.40 193.56h1.50M364.20 193.56h-1.50M196.40 191.22h1.50M364.20 191.22h-1.50M196.40 189.31h1.50M364.20 189.31h-1.50M196.40 187.70h1.50M364.20 187.70h-1.50M196.40 186.30h1.50M364.20 186.30h-1.50M196.40 185.07h1.50M364.20 185.07h-1.50M196.40 183.96h2.80M364.20 183.96h-2.80M196.40 176.70h1.50M364.20 176.70h-1.50M196.40 172.46h1.50M364.20 172.46h-1.50M196.40 169.44h1.50M364.20 169.44h-1.50M196.40 167.11h1.50M364.20 167.11h-1.50M196.40 165.20h1.50M364.20 165.20h-1.50M196.40 163.58h1.50M364.20 163.58h-1.50M196.40 162.18h1.50M364.20 162.18h-1.50M196.40 160.95h1.50M364.20 160.95h-1.50M364.20 321.40v-1.50M364.20 160.95v1.50M367.09 321.40v-1.50M367.09 160.95v1.50M369.53 321.40v-1.50M369.53 160.95v1.50M371.64 321.40v-1.50M371.64 160.95v1.50M373.50 321.40v-1.50M373.50 160.95v1.50M375.17 321.40v-2.80M375.17 160.95v2.80M386.15 321.40v-1.50M386.15 160.95v1.50M392.56 321.40v-1.50M392.56 160.95v1.50M397.12 321.40v-1.50M397.12 160.95v1.50M400.65 321.40v-1.50M400.65 160.95v1.50M403.54 321.40v-1.50M403.54 160.95v1.50M405.98 321.40v-1.50M405.98 160.95v1.50M408.09 321.40v-1.50M408.09 160.95v1.50M409.96 321.40v-1.50M409.96 160.95v1.50M411.62 321.40v-2.80M411.62 160.95v2.80M422.60 321.40v-1.50M422.60 160.95v1.50M429.02 321.40v-1.50M429.02 160.95v1.50M433.57 321.40v-1.50M433.57 160.95v1.50M437.10 321.40v-1.50M437.10 160.95v1.50M439.99 321.40v-1.50M439.99 160.95v1.50M442.43 321.40v-1.50M442.43 160.95v1.50M444.54 321.40v-1.50M444.54 160.95v1.50M446.41 321.40v-1.50M446.41 160.95v1.50M448.07 321.40v-2.80M448.07 160.95v2.80M459.05 321.40v-1.50M459.05 160.95v1.50M465.47 321.40v-1.50M465.47 160.95v1.50M470.02 321.40v-1.50M470.02 160.95v1.50M473.55 321.40v-1.50M473.55 160.95v1.50M476.44 321.40v-1.50M476.44 160.95v1.50M478.88 321.40v-1.50M478.88 160.95v1.50M480.99 321.40v-1.50M480.99 160.95v1.50M482.86 321.40v-1.50M482.86 160.95v1.50M484.53 321.40v-2.80M484.53 160.95v2.80M495.50 321.40v-1.50M495.50 160.95v1.50M501.92 321.40v-1.50M501.92 160.95v1.50M506.47 321.40v-1.50M506.47 160.95v1.50M510.00 321.40v-1.50M510.00 160.95v1.50M512.89 321.40v-1.50M512.89 160.95v1.50M515.33 321.40v-1.50M515.33 160.95v1.50M517.44 321.40v-1.50M517.44 160.95v1.50M519.31 321.40v-1.50M519.31 160.95v1.50M520.98 321.40v-2.80M520.98 160.95v2.80M531.95 321.40v-1.50M531.95 160.95v1.50M364.20 321.40h1.50M532.00 321.40h-1.50M364.20 317.15h1.50M532.00 317.15h-1.50M364.20 314.14h1.50M532.00 314.14h-1.50M364.20 311.80h1.50M532.00 311.80h-1.50M364.20 309.89h1.50M532.00 309.89h-1.50M364.20 308.28h1.50M532.00 308.28h-1.50M364.20 306.88h1.50M532.00 306.88h-1.50M364.20 305.65h1.50M532.00 305.65h-1.50M364.20 304.54h2.80M532.00 304.54h-2.80M364.20 297.28h1.50M532.00 297.28h-1.50M364.20 293.04h1.50M532.00 293.04h-1.50M364.20 290.02h1.50M532.00 290.02h-1.50M364.20 287.69h1.50M532.00 287.69h-1.50M364.20 285.78h1.50M532.00 285.78h-1.50M364.20 284.16h1.50M532.00 284.16h-1.50M364.20 282.76h1.50M532.00 282.76h-1.50M364.20 281.53h1.50M532.00 281.53h-1.50M364.20 280.43h2.80M532.00 280.43h-2.80M364.20 273.17h1.50M532.00 273.17h-1.50M364.20 268.92h1.50M532.00 268.92h-1.50M364.20 265.91h1.50M532.00 265.91h-1.50M364.20 263.57h1.50M532.00 263.57h-1.50M364.20 261.66h1.50M532.00 261.66h-1.50M364.20 260.05h1.50M532.00 260.05h-1.50M364.20 258.65h1.50M532.00 258.65h-1.50M364.20 257.41h1.50M532.00 257.41h-1.50M364.20 256.31h2.80M532.00 256.31h-2.80M364.20 249.05h1.50M532.00 249.05h-1.50M364.20 244.80h1.50M532.00 244.80h-1.50M364.20 241.79h1.50M532.00 241.79h-1.50M364.20 239.45h1.50M532.00 239.45h-1.50M364.20 237.55h1.50M532.00 237.55h-1.50M364.20 235.93h1.50M532.00 235.93h-1.50M364.20 234.53h1.50M532.00 234.53h-1.50M364.20 233.30h1.50M532.00 233.30h-1.50M364.20 232.20h2.80M532.00 232.20h-2.80M364.20 224.94h1.50M532.00 224.94h-1.50M364.20 220.69h1.50M532.00 220.69h-1.50M364.20 217.68h1.50M532.00 217.68h-1.50M364.20 215.34h1.50M532.00 215.34h-1.50M364.20 213.43h1.50M532.00 213.43h-1.50M364.20 211.81h1.50M532.00 211.81h-1.50M364.20 210.42h1.50M532.00 210.42h-1.50M364.20 209.18h1.50M532.00 209.18h-1.50M364.20 208.08h2.80M532.00 208.08h-2.80M364.20 200.82h1.50M532.00 200.82h-1.50M364.20 196.57h1.50M532.00 196.57h-1.50M364.20 193.56h1.50M532.00 193.56h-1.50M364.20 191.22h1.50M532.00 191.22h-1.50M364.20 189.31h1.50M532.00 189.31h-1.50M364.20 187.70h1.50M532.00 187.70h-1.50M364.20 186.30h1.50M532.00 186.30h-1.50M364.20 185.07h1.50M532.00 185.07h-1.50M364.20 183.96h2.80M532.00 183.96h-2.80M364.20 176.70h1.50M532.00 176.70h-1.50M364.20 172.46h1.50M532.00 172.46h-1.50M364.20 169.44h1.50M532.00 169.44h-1.50M364.20 167.11h1.50M532.00 167.11h-1.50M364.20 165.20h1.50M532.00 165.20h-1.50M364.20 163.58h1.50M532.00 163.58h-1.50M364.20 162.18h1.50M532.00 162.18h-1.50M364.20 160.95h1.50M532.00 160.95h-1.50M532.00 321.40v-1.50M532.00 160.95v1.50M534.89 321.40v-1.50M534.89 160.95v1.50M537.33 321.40v-1.50M537.33 160.95v1.50M539.44 321.40v-1.50M539.44 160.95v1.50M541.30 321.40v-1.50M541.30 160.95v1.50M542.97 321.40v-2.80M542.97 160.95v2.80M553.95 321.40v-1.50M553.95 160.95v1.50M560.36 321.40v-1.50M560.36 160.95v1.50M564.92 321.40v-1.50M564.92 160.95v1.50M568.45 321.40v-1.50M568.45 160.95v1.50M571.34 321.40v-1.50M571.34 160.95v1.50M573.78 321.40v-1.50M573.78 160.95v1.50M575.89 321.40v-1.50M575.89 160.95v1.50M577.76 321.40v-1.50M577.76 160.95v1.50M579.42 321.40v-2.80M579.42 160.95v2.80M590.40 321.40v-1.50M590.40 160.95v1.50M596.82 321.40v-1.50M596.82 160.95v1.50M601.37 321.40v-1.50M601.37 160.95v1.50M604.90 321.40v-1.50M604.90 160.95v1.50M607.79 321.40v-1.50M607.79 160.95v1.50M610.23 321.40v-1.50M610.23 160.95v1.50M612.34 321.40v-1.50M612.34 160.95v1.50M614.21 321.40v-1.50M614.21 160.95v1.50M615.88 321.40v-2.80M615.88 160.95v2.80M626.85 321.40v-1.50M626.85 160.95v1.50M633.27 321.40v-1.50M633.27 160.95v1.50M637.82 321.40v-1.50M637.82 160.95v1.50M641.35 321.40v-1.50M641.35 160.95v1.50M644.24 321.40v-1.50M644.24 160.95v1.50M646.68 321.40v-1.50M646.68 160.95v1.50M648.79 321.40v-1.50M648.79 160.95v1.50M650.66 321.40v-1.50M650.66 160.95v1.50M652.33 321.40v-2.80M652.33 160.95v2.80M663.30 321.40v-1.50M663.30 160.95v1.50M669.72 321.40v-1.50M669.72 160.95v1.50M674.27 321.40v-1.50M674.27 160.95v1.50M677.80 321.40v-1.50M677.80 160.95v1.50M680.69 321.40v-1.50M680.69 160.95v1.50M683.13 321.40v-1.50M683.13 160.95v1.50M685.24 321.40v-1.50M685.24 160.95v1.50M687.11 321.40v-1.50M687.11 160.95v1.50M688.78 321.40v-2.80M688.78 160.95v2.80M699.75 321.40v-1.50M699.75 160.95v1.50M532.00 321.40h1.50M699.50 321.40h-1.50M532.00 317.15h1.50M699.50 317.15h-1.50M532.00 314.14h1.50M699.50 314.14h-1.50M532.00 311.80h1.50M699.50 311.80h-1.50M532.00 309.89h1.50M699.50 309.89h-1.50M532.00 308.28h1.50M699.50 308.28h-1.50M532.00 306.88h1.50M699.50 306.88h-1.50M532.00 305.65h1.50M699.50 305.65h-1.50M532.00 304.54h2.80M699.50 304.54h-2.80M532.00 297.28h1.50M699.50 297.28h-1.50M532.00 293.04h1.50M699.50 293.04h-1.50M532.00 290.02h1.50M699.50 290.02h-1.50M532.00 287.69h1.50M699.50 287.69h-1.50M532.00 285.78h1.50M699.50 285.78h-1.50M532.00 284.16h1.50M699.50 284.16h-1.50M532.00 282.76h1.50M699.50 282.76h-1.50M532.00 281.53h1.50M699.50 281.53h-1.50M532.00 280.43h2.80M699.50 280.43h-2.80M532.00 273.17h1.50M699.50 273.17h-1.50M532.00 268.92h1.50M699.50 268.92h-1.50M532.00 265.91h1.50M699.50 265.91h-1.50M532.00 263.57h1.50M699.50 263.57h-1.50M532.00 261.66h1.50M699.50 261.66h-1.50M532.00 260.05h1.50M699.50 260.05h-1.50M532.00 258.65h1.50M699.50 258.65h-1.50M532.00 257.41h1.50M699.50 257.41h-1.50M532.00 256.31h2.80M699.50 256.31h-2.80M532.00 249.05h1.50M699.50 249.05h-1.50M532.00 244.80h1.50M699.50 244.80h-1.50M532.00 241.79h1.50M699.50 241.79h-1.50M532.00 239.45h1.50M699.50 239.45h-1.50M532.00 237.55h1.50M699.50 237.55h-1.50M532.00 235.93h1.50M699.50 235.93h-1.50M532.00 234.53h1.50M699.50 234.53h-1.50M532.00 233.30h1.50M699.50 233.30h-1.50M532.00 232.20h2.80M699.50 232.20h-2.80M532.00 224.94h1.50M699.50 224.94h-1.50M532.00 220.69h1.50M699.50 220.69h-1.50M532.00 217.68h1.50M699.50 217.68h-1.50M532.00 215.34h1.50M699.50 215.34h-1.50M532.00 213.43h1.50M699.50 213.43h-1.50M532.00 211.81h1.50M699.50 211.81h-1.50M532.00 210.42h1.50M699.50 210.42h-1.50M532.00 209.18h1.50M699.50 209.18h-1.50M532.00 208.08h2.80M699.50 208.08h-2.80M532.00 200.82h1.50M699.50 200.82h-1.50M532.00 196.57h1.50M699.50 196.57h-1.50M532.00 193.56h1.50M699.50 193.56h-1.50M532.00 191.22h1.50M699.50 191.22h-1.50M532.00 189.31h1.50M699.50 189.31h-1.50M532.00 187.70h1.50M699.50 187.70h-1.50M532.00 186.30h1.50M699.50 186.30h-1.50M532.00 185.07h1.50M699.50 185.07h-1.50M532.00 183.96h2.80M699.50 183.96h-2.80M532.00 176.70h1.50M699.50 176.70h-1.50M532.00 172.46h1.50M699.50 172.46h-1.50M532.00 169.44h1.50M699.50 169.44h-1.50M532.00 167.11h1.50M699.50 167.11h-1.50M532.00 165.20h1.50M699.50 165.20h-1.50M532.00 163.58h1.50M699.50 163.58h-1.50M532.00 162.18h1.50M699.50 162.18h-1.50M532.00 160.95h1.50M699.50 160.95h-1.50" stroke="#000" stroke-width="0.75" fill="none"/>
<path d="M28.10 0.50H699.90M28.10 160.95H699.90M28.10 321.40H699.90M28.50 0.10V321.80M196.40 0.10V321.80M364.20 0.10V321.80M532.00 0.10V321.80M699.50 0.10V321.80" stroke="#111" stroke-width="0.8" fill="none"/>
<g font-family='"Liberation Serif", serif' fill="#000" style="will-change:transform">
<text x="39.67" y="331.7" text-anchor="middle" font-size="10.80">10<tspan font-size="7.50" dy="-3.9">−3</tspan></text>
<text x="76.12" y="331.7" text-anchor="middle" font-size="10.80">10<tspan font-size="7.50" dy="-3.9">−2</tspan></text>
<text x="112.58" y="331.7" text-anchor="middle" font-size="10.80">10<tspan font-size="7.50" dy="-3.9">−1</tspan></text>
<text x="149.03" y="331.7" text-anchor="middle" font-size="10.80">10<tspan font-size="7.50" dy="-3.9">0</tspan></text>
<text x="185.48" y="331.7" text-anchor="middle" font-size="10.80">10<tspan font-size="7.50" dy="-3.9">1</tspan></text>
<text x="207.57" y="331.7" text-anchor="middle" font-size="10.80">10<tspan font-size="7.50" dy="-3.9">−3</tspan></text>
<text x="244.02" y="331.7" text-anchor="middle" font-size="10.80">10<tspan font-size="7.50" dy="-3.9">−2</tspan></text>
<text x="280.47" y="331.7" text-anchor="middle" font-size="10.80">10<tspan font-size="7.50" dy="-3.9">−1</tspan></text>
<text x="316.93" y="331.7" text-anchor="middle" font-size="10.80">10<tspan font-size="7.50" dy="-3.9">0</tspan></text>
<text x="353.38" y="331.7" text-anchor="middle" font-size="10.80">10<tspan font-size="7.50" dy="-3.9">1</tspan></text>
<text x="375.37" y="331.7" text-anchor="middle" font-size="10.80">10<tspan font-size="7.50" dy="-3.9">−3</tspan></text>
<text x="411.82" y="331.7" text-anchor="middle" font-size="10.80">10<tspan font-size="7.50" dy="-3.9">−2</tspan></text>
<text x="448.27" y="331.7" text-anchor="middle" font-size="10.80">10<tspan font-size="7.50" dy="-3.9">−1</tspan></text>
<text x="484.73" y="331.7" text-anchor="middle" font-size="10.80">10<tspan font-size="7.50" dy="-3.9">0</tspan></text>
<text x="521.18" y="331.7" text-anchor="middle" font-size="10.80">10<tspan font-size="7.50" dy="-3.9">1</tspan></text>
<text x="543.17" y="331.7" text-anchor="middle" font-size="10.80">10<tspan font-size="7.50" dy="-3.9">−3</tspan></text>
<text x="579.62" y="331.7" text-anchor="middle" font-size="10.80">10<tspan font-size="7.50" dy="-3.9">−2</tspan></text>
<text x="616.08" y="331.7" text-anchor="middle" font-size="10.80">10<tspan font-size="7.50" dy="-3.9">−1</tspan></text>
<text x="652.53" y="331.7" text-anchor="middle" font-size="10.80">10<tspan font-size="7.50" dy="-3.9">0</tspan></text>
<text x="688.98" y="331.7" text-anchor="middle" font-size="10.80">10<tspan font-size="7.50" dy="-3.9">1</tspan></text>
<text transform="translate(24.5,143.49) rotate(-90)" text-anchor="middle" font-size="11.2">10<tspan font-size="7.70" dy="-3.6">−15</tspan></text>
<text transform="translate(24.5,119.38) rotate(-90)" text-anchor="middle" font-size="11.2">10<tspan font-size="7.70" dy="-3.6">−14</tspan></text>
<text transform="translate(24.5,95.26) rotate(-90)" text-anchor="middle" font-size="11.2">10<tspan font-size="7.70" dy="-3.6">−13</tspan></text>
<text transform="translate(24.5,71.15) rotate(-90)" text-anchor="middle" font-size="11.2">10<tspan font-size="7.70" dy="-3.6">−12</tspan></text>
<text transform="translate(24.5,47.03) rotate(-90)" text-anchor="middle" font-size="11.2">10<tspan font-size="7.70" dy="-3.6">−11</tspan></text>
<text transform="translate(24.5,22.91) rotate(-90)" text-anchor="middle" font-size="11.2">10<tspan font-size="7.70" dy="-3.6">−10</tspan></text>
<text transform="translate(24.5,303.94) rotate(-90)" text-anchor="middle" font-size="11.2">10<tspan font-size="7.70" dy="-3.6">−15</tspan></text>
<text transform="translate(24.5,279.83) rotate(-90)" text-anchor="middle" font-size="11.2">10<tspan font-size="7.70" dy="-3.6">−14</tspan></text>
<text transform="translate(24.5,255.71) rotate(-90)" text-anchor="middle" font-size="11.2">10<tspan font-size="7.70" dy="-3.6">−13</tspan></text>
<text transform="translate(24.5,231.60) rotate(-90)" text-anchor="middle" font-size="11.2">10<tspan font-size="7.70" dy="-3.6">−12</tspan></text>
<text transform="translate(24.5,207.48) rotate(-90)" text-anchor="middle" font-size="11.2">10<tspan font-size="7.70" dy="-3.6">−11</tspan></text>
<text transform="translate(24.5,183.36) rotate(-90)" text-anchor="middle" font-size="11.2">10<tspan font-size="7.70" dy="-3.6">−10</tspan></text>
<text transform="translate(12.8,80.40) rotate(-90)" text-anchor="middle" font-size="12.6" letter-spacing="0.25">Ψ (erg s<tspan font-size="8.6" dy="-4.9">−2</tspan><tspan dy="4.9"> cm</tspan><tspan font-size="8.6" dy="-4.9">−2</tspan><tspan dy="4.9">)</tspan></text>
<text transform="translate(12.8,240.85) rotate(-90)" text-anchor="middle" font-size="12.6" letter-spacing="0.25">Ψ (erg s<tspan font-size="8.6" dy="-4.9">−2</tspan><tspan dy="4.9"> cm</tspan><tspan font-size="8.6" dy="-4.9">−2</tspan><tspan dy="4.9">)</tspan></text>
<text x="372.6" y="342.9" text-anchor="middle" font-size="12.6" letter-spacing="0.25">Time (day)</text>
<text x="40.3" y="16.2" font-size="12.3"><tspan font-style="italic">HST</tspan> λ1158 Å</text>
<text x="208" y="16.6" font-size="12.3">UVW2</text>
<text x="375.2" y="16.2" font-size="12.3" font-style="italic">g′</text>
<text x="543.4" y="16.4" font-size="12.3" font-style="italic">z′</text>
<text x="86.9" y="137.00" font-size="11.4" font-style="italic">a</text>
<text x="93.4" y="134.60" font-size="9">*</text>
<text x="100.9" y="137.00" font-size="12.4">=</text>
<text x="111.3" y="137.00" font-size="12.4">0</text>
<text x="86.9" y="297.45" font-size="11.4" font-style="italic">a</text>
<text x="93.4" y="295.05" font-size="9">*</text>
<text x="100.9" y="297.45" font-size="12.4">=</text>
<text x="111.3" y="297.45" font-size="12.4">1</text>
<line x1="112.3" y1="10.10" x2="127.2" y2="10.10" stroke="#262626" stroke-width="1.55"/>
<text x="133.1" y="11.90" font-size="7.8" font-style="italic">L</text>
<text x="137.0" y="12.90" font-size="6.0">X</text>
<text x="142.0" y="11.90" font-size="8.4" stroke="#000" stroke-width="0.25">/</text>
<text x="145.3" y="11.90" font-size="7.8" font-style="italic">L</text>
<text x="150.1" y="12.90" font-size="6.0">Edd</text>
<text x="162.7" y="11.80" font-size="9.6">=</text>
<text x="169.8" y="11.90" font-size="7.2">0.001</text>
<line x1="112.3" y1="20.72" x2="127.2" y2="20.72" stroke="#4f6ff0" stroke-width="1.10"/>
<text x="133.1" y="22.52" font-size="7.8" font-style="italic">L</text>
<text x="137.0" y="23.52" font-size="6.0">X</text>
<text x="142.0" y="22.52" font-size="8.4" stroke="#000" stroke-width="0.25">/</text>
<text x="145.3" y="22.52" font-size="7.8" font-style="italic">L</text>
<text x="150.1" y="23.52" font-size="6.0">Edd</text>
<text x="162.7" y="22.42" font-size="9.6">=</text>
<text x="169.8" y="22.52" font-size="7.2">0.0025</text>
<line x1="112.3" y1="31.34" x2="127.2" y2="31.34" stroke="#f02d2d" stroke-width="1.10"/>
<text x="133.1" y="33.14" font-size="7.8" font-style="italic">L</text>
<text x="137.0" y="34.14" font-size="6.0">X</text>
<text x="142.0" y="33.14" font-size="8.4" stroke="#000" stroke-width="0.25">/</text>
<text x="145.3" y="33.14" font-size="7.8" font-style="italic">L</text>
<text x="150.1" y="34.14" font-size="6.0">Edd</text>
<text x="162.7" y="33.04" font-size="9.6">=</text>
<text x="169.8" y="33.14" font-size="7.2">0.005</text>
<line x1="112.3" y1="41.96" x2="127.2" y2="41.96" stroke="#4caa4c" stroke-width="1.40"/>
<text x="133.1" y="43.76" font-size="7.8" font-style="italic">L</text>
<text x="137.0" y="44.76" font-size="6.0">X</text>
<text x="142.0" y="43.76" font-size="8.4" stroke="#000" stroke-width="0.25">/</text>
<text x="145.3" y="43.76" font-size="7.8" font-style="italic">L</text>
<text x="150.1" y="44.76" font-size="6.0">Edd</text>
<text x="162.7" y="43.66" font-size="9.6">=</text>
<text x="169.8" y="43.76" font-size="7.2">0.01</text>
<line x1="112.3" y1="52.58" x2="127.2" y2="52.58" stroke="#ff9a42" stroke-width="1.10"/>
<text x="133.1" y="54.38" font-size="7.8" font-style="italic">L</text>
<text x="137.0" y="55.38" font-size="6.0">X</text>
<text x="142.0" y="54.38" font-size="8.4" stroke="#000" stroke-width="0.25">/</text>
<text x="145.3" y="54.38" font-size="7.8" font-style="italic">L</text>
<text x="150.1" y="55.38" font-size="6.0">Edd</text>
<text x="162.7" y="54.28" font-size="9.6">=</text>
<text x="169.8" y="54.38" font-size="7.2">0.025</text>
<line x1="112.3" y1="63.20" x2="127.2" y2="63.20" stroke="#9a9a9a" stroke-width="1.10"/>
<text x="133.1" y="65.00" font-size="7.8" font-style="italic">L</text>
<text x="137.0" y="66.00" font-size="6.0">X</text>
<text x="142.0" y="65.00" font-size="8.4" stroke="#000" stroke-width="0.25">/</text>
<text x="145.3" y="65.00" font-size="7.8" font-style="italic">L</text>
<text x="150.1" y="66.00" font-size="6.0">Edd</text>
<text x="162.7" y="64.90" font-size="9.6">=</text>
<text x="169.8" y="65.00" font-size="7.2">0.05</text>
<line x1="112.3" y1="73.82" x2="127.2" y2="73.82" stroke="#b86262" stroke-width="1.30"/>
<text x="133.1" y="75.62" font-size="7.8" font-style="italic">L</text>
<text x="137.0" y="76.62" font-size="6.0">X</text>
<text x="142.0" y="75.62" font-size="8.4" stroke="#000" stroke-width="0.25">/</text>
<text x="145.3" y="75.62" font-size="7.8" font-style="italic">L</text>
<text x="150.1" y="76.62" font-size="6.0">Edd</text>
<text x="162.7" y="75.52" font-size="9.6">=</text>
<text x="169.8" y="75.62" font-size="7.2">0.1</text>
<line x1="112.3" y1="84.44" x2="127.2" y2="84.44" stroke="#ff1dff" stroke-width="1.40"/>
<text x="133.1" y="86.24" font-size="7.8" font-style="italic">L</text>
<text x="137.0" y="87.24" font-size="6.0">X</text>
<text x="142.0" y="86.24" font-size="8.4" stroke="#000" stroke-width="0.25">/</text>
<text x="145.3" y="86.24" font-size="7.8" font-style="italic">L</text>
<text x="150.1" y="87.24" font-size="6.0">Edd</text>
<text x="162.7" y="86.14" font-size="9.6">=</text>
<text x="169.8" y="86.24" font-size="7.2">0.25</text>
<line x1="112.3" y1="95.06" x2="127.2" y2="95.06" stroke="#2ecad8" stroke-width="1.40"/>
<text x="133.1" y="96.86" font-size="7.8" font-style="italic">L</text>
<text x="137.0" y="97.86" font-size="6.0">X</text>
<text x="142.0" y="96.86" font-size="8.4" stroke="#000" stroke-width="0.25">/</text>
<text x="145.3" y="96.86" font-size="7.8" font-style="italic">L</text>
<text x="150.1" y="97.86" font-size="6.0">Edd</text>
<text x="162.7" y="96.76" font-size="9.6">=</text>
<text x="169.8" y="96.86" font-size="7.2">0.5</text>
</g>
</svg></body></html>
